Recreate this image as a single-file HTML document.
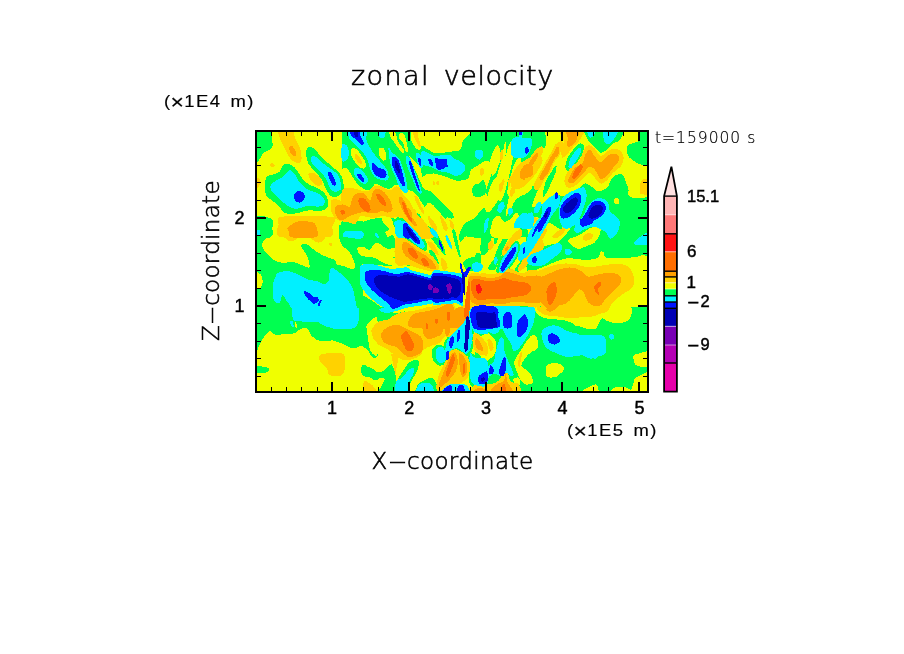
<!DOCTYPE html>
<html><head><meta charset="utf-8"><title>zonal velocity</title>
<style>
html,body{margin:0;padding:0;background:#fff;}
body{width:904px;height:654px;position:relative;overflow:hidden;}
svg{position:absolute;left:0;top:0;}
.t{position:absolute;white-space:nowrap;color:#000;line-height:1;font-family:"DejaVu Sans Light","DejaVu Sans","Liberation Sans",sans-serif;font-weight:200;}
.b{position:absolute;white-space:nowrap;color:#000;line-height:1;font-family:"Liberation Sans",sans-serif;font-weight:400;-webkit-text-stroke:0.45px #000;}
.m{font-size:20px;line-height:0;position:relative;top:2px;margin:0 -1px;}
.d{display:inline-block;transform-origin:0 50%;}
.x{top:399px;width:40px;text-align:center;font-size:18px;}
</style></head><body>
<svg width="904" height="654" viewBox="0 0 904 654">
<defs><clipPath id="cp"><rect x="255" y="130" width="394" height="263"/></clipPath></defs>
<g clip-path="url(#cp)" shape-rendering="crispEdges">
<rect x="255" y="130" width="394" height="263" fill="#f0ff00"/>
<path fill="#00ff50" d="M250.4 125.4C253.7 119.4 267.5 123.6 271.1 125.4C274.6 127.2 271.3 132.8 271.5 136.1C271.8 139.4 272.9 143.0 272.6 145.3C272.3 147.6 270.9 148.7 269.5 149.9C268.1 151.0 265.8 150.6 264.2 152.2C262.5 153.7 260.9 157.3 259.6 159.1C258.3 160.8 258.1 162.1 256.5 162.9C255.0 163.6 250.7 165.7 250.4 163.6C250.1 161.6 247.1 131.5 250.4 125.4ZM284.1 164.4C286.1 163.3 289.4 164.0 291.7 165.2C294.0 166.3 296.0 169.0 297.8 171.3C299.6 173.6 300.4 176.6 302.4 178.9C304.4 181.2 307.2 183.4 310.0 185.0C312.8 186.7 316.7 187.3 319.2 188.9C321.8 190.4 323.8 192.1 325.3 194.2C326.9 196.4 328.1 199.6 328.4 201.9C328.6 204.2 328.1 206.5 326.9 208.0C325.6 209.5 323.8 210.7 320.7 211.0C317.7 211.4 312.1 210.0 308.5 210.3C304.9 210.5 302.7 211.9 299.3 212.6C296.0 213.2 291.4 214.4 288.6 214.1C285.8 213.8 284.3 212.6 282.5 211.0C280.7 209.5 279.7 206.7 277.9 204.9C276.2 203.1 273.7 201.9 271.8 200.3C269.9 198.8 267.6 197.8 266.5 195.7C265.3 193.7 264.9 191.2 264.9 188.1C264.9 185.0 265.1 179.7 266.5 177.4C267.9 175.1 271.2 175.2 273.3 174.3C275.5 173.5 277.7 173.7 279.5 172.0C281.2 170.4 282.0 165.6 284.1 164.4ZM309.3 146.8C310.5 146.7 312.2 147.1 313.9 148.3C315.5 149.6 317.1 152.2 319.2 154.5C321.4 156.8 324.1 159.6 326.9 162.1C329.7 164.7 333.5 167.2 336.0 169.8C338.6 172.3 340.9 174.3 342.2 177.4C343.4 180.5 343.9 185.3 343.7 188.1C343.4 190.9 342.4 192.7 340.6 194.2C338.8 195.7 335.3 197.8 333.0 197.3C330.7 196.8 328.6 194.0 326.9 191.2C325.1 188.4 324.1 183.5 322.3 180.5C320.5 177.4 318.5 175.6 316.2 172.8C313.9 170.0 310.2 166.7 308.5 163.6C306.9 160.6 306.5 156.9 306.2 154.5C305.9 152.0 306.2 150.4 306.7 149.1C307.2 147.8 308.1 146.9 309.3 146.8ZM250.4 220.2C253.7 217.4 266.7 219.4 270.3 220.2C273.9 221.0 271.7 222.0 271.8 224.8C271.9 227.6 274.6 235.0 271.1 237.0C267.5 239.1 253.9 239.8 250.4 237.0C247.0 234.2 247.1 223.0 250.4 220.2ZM341.9 125.4C341.9 125.4 386.6 124.4 390.9 125.4C395.1 126.4 392.9 133.6 395.5 137.6C398.0 141.7 403.4 145.5 406.2 149.9C409.0 154.2 410.2 159.1 412.3 163.6C414.3 168.2 416.4 172.8 418.4 177.4C420.4 182.0 423.0 187.1 424.5 191.2C426.0 195.2 427.6 199.3 427.6 201.9C427.6 204.4 426.0 207.2 424.5 206.5C423.0 205.7 420.4 199.8 418.4 197.3C416.4 194.7 414.3 192.4 412.3 191.2C410.2 189.9 407.9 190.4 406.2 189.6C404.4 188.9 403.4 187.3 401.6 186.6C399.8 185.8 397.5 184.7 395.5 185.0C393.4 185.4 391.6 188.6 389.3 188.9C387.0 189.1 384.0 187.5 381.7 186.6C379.4 185.7 377.4 183.0 375.6 183.5C373.8 184.0 372.8 188.6 371.0 189.6C369.2 190.7 367.2 190.7 364.9 189.6C362.6 188.6 359.5 186.1 357.2 183.5C354.9 181.0 352.9 176.9 351.1 174.3C349.3 171.8 348.1 169.2 346.5 168.2C345.0 167.2 342.1 169.7 341.9 168.2C341.8 166.7 341.9 125.4 341.9 125.4ZM395.5 126.9C397.2 124.4 406.7 124.9 409.2 126.9C411.8 129.0 410.0 136.1 410.7 139.2C411.5 142.2 412.5 143.5 413.8 145.3C415.1 147.1 416.6 149.6 418.4 149.9C420.2 150.1 422.5 146.8 424.5 146.8C426.5 146.8 428.6 148.6 430.6 149.9C432.7 151.2 433.2 154.0 436.7 154.5C440.3 155.0 449.5 149.6 452.0 152.9C454.6 156.2 454.6 171.0 452.0 174.3C449.5 177.7 440.8 172.8 436.7 172.8C432.7 172.8 430.1 175.1 427.6 174.3C425.0 173.6 423.7 170.5 421.5 168.2C419.2 165.9 416.4 163.1 413.8 160.6C411.3 158.0 408.7 156.0 406.2 152.9C403.6 149.9 400.3 146.6 398.5 142.2C396.7 137.9 393.7 129.5 395.5 126.9ZM424.5 191.2C425.3 190.1 428.6 190.1 430.6 191.2C432.7 192.2 433.2 193.7 436.7 197.3C440.3 200.8 449.5 209.0 452.0 212.6C454.6 216.1 454.1 218.7 452.0 218.7C450.0 218.7 443.1 215.1 439.8 212.6C436.5 210.0 434.4 205.9 432.2 203.4C429.9 200.8 427.3 199.3 426.0 197.3C424.8 195.2 423.7 192.2 424.5 191.2ZM341.9 221.7C344.0 220.5 350.6 220.2 354.2 220.2C357.7 220.2 361.1 221.0 363.3 221.7C365.6 222.5 368.4 224.0 367.9 224.8C367.4 225.6 363.1 226.3 360.3 226.3C357.5 226.4 354.2 224.9 351.1 225.1C348.1 225.4 343.5 228.4 341.9 227.9C340.4 227.3 339.9 223.0 341.9 221.7ZM367.9 220.2C369.7 219.3 376.6 217.9 380.2 217.9C383.7 217.9 386.8 219.3 389.3 220.2C391.9 221.1 392.7 222.5 395.5 223.3C398.3 224.0 403.4 222.5 406.2 224.8C409.0 227.1 416.4 235.1 412.3 237.0C408.2 239.0 384.0 238.4 380.2 237.0C376.3 235.6 380.4 227.1 378.6 224.8C376.9 222.5 371.2 224.0 369.5 223.3C367.7 222.5 366.2 221.1 367.9 220.2ZM421.9 145.3C424.2 141.0 429.1 151.9 434.2 152.9C439.3 154.0 448.2 151.9 452.5 151.4C456.9 150.9 458.4 151.7 460.2 149.9C462.0 148.1 461.2 144.5 463.2 140.7C465.3 136.9 467.0 128.0 472.4 126.9C477.8 125.9 526.2 125.1 532.0 126.9C537.9 128.7 534.6 139.7 532.0 145.3C529.5 150.9 520.3 158.5 516.7 160.6C513.2 162.6 512.7 157.0 510.6 157.5C508.6 158.0 506.5 163.1 504.5 163.6C502.5 164.1 500.4 160.6 498.4 160.6C496.4 160.6 494.3 163.6 492.3 163.6C490.2 163.6 488.5 160.3 486.2 160.6C483.9 160.8 481.1 163.6 478.5 165.2C476.0 166.7 472.7 167.5 470.9 169.8C469.1 172.0 470.4 177.1 467.8 178.9C465.3 180.7 458.9 180.7 455.6 180.5C452.3 180.2 451.0 178.4 447.9 177.4C444.9 176.4 440.3 175.1 437.2 174.3C434.2 173.6 432.1 172.6 429.6 172.8C427.0 173.1 422.7 178.5 421.9 175.9C421.2 173.2 419.7 149.5 421.9 145.3ZM421.9 188.1C423.5 186.8 428.8 192.9 431.1 194.2C433.4 195.5 434.2 193.7 435.7 195.7C437.2 197.8 438.5 203.1 440.3 206.5C442.1 209.8 445.6 213.6 446.4 215.6C447.2 217.7 446.2 219.4 444.9 218.7C443.6 217.9 441.1 213.6 438.8 211.0C436.5 208.5 433.9 204.9 431.1 203.4C428.3 201.9 423.5 204.4 421.9 201.9C420.4 199.3 420.4 189.4 421.9 188.1ZM473.2 185.8C474.2 184.3 476.7 184.4 478.5 183.5C480.3 182.6 482.6 179.2 483.9 180.5C485.1 181.7 486.3 188.6 486.2 191.2C486.0 193.7 484.9 194.7 483.1 195.7C481.3 196.8 477.2 197.8 475.5 197.3C473.7 196.8 472.8 194.6 472.4 192.7C472.0 190.8 472.1 187.3 473.2 185.8ZM492.3 163.6C494.6 161.6 500.4 164.1 504.5 163.6C508.6 163.1 512.2 163.6 516.7 160.6C521.3 157.5 530.6 138.2 532.0 145.3C533.4 152.4 532.0 237.0 532.0 237.0C532.0 237.0 473.3 238.5 467.8 237.0C462.3 235.5 472.9 225.8 475.5 221.7C478.0 217.7 480.8 215.9 483.1 212.6C485.4 209.3 488.7 205.4 489.2 201.9C489.7 198.3 485.9 195.5 486.2 191.2C486.4 186.8 489.7 180.5 490.7 175.9C491.8 171.3 490.0 165.7 492.3 163.6ZM511.9 126.9C518.1 119.5 535.4 123.9 541.0 126.9C546.6 130.0 546.1 141.2 545.6 145.3C545.1 149.4 540.5 149.1 537.9 151.4C535.4 153.7 533.1 157.0 530.3 159.1C527.5 161.1 524.2 163.1 521.1 163.6C518.1 164.1 512.7 165.1 511.9 162.1C511.2 159.1 505.8 134.4 511.9 126.9ZM511.9 191.2C513.5 187.3 519.1 189.6 521.1 189.6C523.2 189.6 523.9 189.4 524.2 191.2C524.4 192.9 523.7 197.3 522.6 200.3C521.6 203.4 519.8 207.5 518.1 209.5C516.3 211.5 513.0 215.6 511.9 212.6C510.9 209.5 510.4 195.0 511.9 191.2ZM531.8 189.6C532.8 186.6 535.0 182.8 536.4 180.5C537.8 178.2 539.7 175.1 540.2 175.9C540.7 176.6 540.4 181.5 539.5 185.0C538.6 188.6 536.2 194.0 534.9 197.3C533.6 200.6 532.6 204.7 531.8 204.9C531.1 205.2 530.3 201.4 530.3 198.8C530.3 196.3 530.8 192.7 531.8 189.6ZM545.6 182.0C547.1 177.7 549.9 174.1 551.7 171.3C553.5 168.5 555.6 164.9 556.3 165.2C556.9 165.4 556.4 169.8 555.5 172.8C554.6 175.9 552.6 179.9 550.9 183.5C549.3 187.1 547.0 191.9 545.6 194.2C544.2 196.5 542.5 199.3 542.5 197.3C542.5 195.2 544.1 186.3 545.6 182.0ZM565.5 168.2C564.9 166.2 565.7 162.1 567.0 159.1C568.3 156.0 571.1 152.4 573.1 149.9C575.1 147.3 577.4 144.5 579.2 143.8C581.0 143.0 583.3 143.5 583.8 145.3C584.3 147.1 583.6 151.4 582.3 154.5C581.0 157.5 578.2 160.8 576.2 163.6C574.1 166.4 571.8 170.5 570.0 171.3C568.3 172.0 566.0 170.3 565.5 168.2ZM627.1 146.1C627.8 144.3 630.2 144.2 632.1 143.3C634.0 142.5 637.2 142.3 638.5 141.1C639.9 139.8 639.9 137.9 640.2 136.0C640.5 134.1 638.8 130.7 640.4 129.6C641.9 128.5 648.8 126.6 649.5 129.6C650.3 132.5 650.3 162.4 649.5 165.4C648.8 168.3 643.3 165.4 640.4 164.4C637.5 163.5 634.3 161.5 632.1 159.9C630.0 158.2 628.4 156.7 627.5 154.4C626.7 152.1 626.3 147.9 627.1 146.1ZM579.2 188.1C581.8 186.3 583.3 183.8 585.3 183.5C587.4 183.3 589.4 185.3 591.5 186.6C593.5 187.8 595.0 190.9 597.6 191.2C600.1 191.4 604.2 190.4 606.7 188.1C609.3 185.8 610.3 179.7 612.9 177.4C615.4 175.1 619.5 172.6 622.0 174.3C624.6 176.1 626.6 184.3 628.1 188.1C629.7 191.9 625.9 195.0 631.2 197.3C636.6 199.6 654.5 193.9 660.3 201.9C666.0 209.8 660.3 237.0 660.3 237.0C660.3 237.0 517.1 237.6 511.9 237.0C506.8 236.5 513.0 226.3 515.0 221.7C517.0 217.2 520.9 212.1 524.2 209.5C527.5 207.0 530.5 208.0 534.9 206.5C539.2 204.9 546.3 202.1 550.2 200.3C554.0 198.6 555.5 196.5 557.8 195.7C560.1 195.0 561.9 196.0 563.9 195.7C566.0 195.5 567.5 195.5 570.0 194.2C572.6 192.9 576.7 189.9 579.2 188.1ZM585.3 127.7C589.5 126.1 618.4 126.5 622.0 127.7C625.7 128.9 622.0 136.5 620.5 139.2C619.0 141.9 615.2 142.0 612.9 143.8C610.6 145.5 608.8 148.3 606.7 149.9C604.7 151.4 602.4 153.2 600.6 152.9C598.8 152.7 598.1 150.4 596.0 148.3C594.0 146.3 590.2 144.1 588.4 140.7C586.6 137.3 581.2 129.3 585.3 127.7ZM251.9 219.2C253.1 212.7 268.8 216.8 271.8 219.2C274.9 221.7 271.6 230.3 270.3 233.8C269.0 237.2 265.6 237.8 264.2 239.9C262.8 241.9 261.6 244.0 261.9 246.0C262.1 248.0 263.8 249.8 265.7 252.1C267.6 254.4 270.5 258.0 273.3 259.8C276.2 261.5 279.2 262.4 282.5 262.8C285.8 263.2 289.7 261.5 293.2 262.0C296.8 262.6 301.3 265.0 303.9 265.9C306.6 266.8 308.5 268.4 309.3 267.4C310.0 266.4 309.4 262.6 308.5 259.8C307.6 257.0 305.2 252.9 303.9 250.6C302.7 248.3 300.6 247.1 300.9 246.0C301.1 244.8 303.4 243.2 305.5 243.7C307.5 244.2 310.3 247.1 313.1 249.1C315.9 251.0 318.7 253.4 322.3 255.2C325.8 257.0 330.9 258.2 334.5 259.8C338.1 261.3 339.1 263.3 343.7 264.3C348.3 265.4 360.3 260.0 362.0 265.9C363.8 271.8 362.0 327.0 362.0 327.0C362.0 327.0 251.9 327.0 251.9 327.0C251.9 327.0 250.7 225.8 251.9 219.2ZM340.6 224.6C344.4 223.6 358.7 216.7 362.0 223.1C365.3 229.4 364.0 260.8 362.0 265.9C360.1 270.9 352.9 258.2 349.8 255.2C346.7 252.1 345.5 250.3 343.7 247.5C341.9 244.7 339.9 241.4 339.1 238.3C338.3 235.3 338.8 231.5 339.1 229.2C339.4 226.9 336.8 225.6 340.6 224.6ZM341.9 224.6C341.9 224.6 377.1 219.7 381.7 219.2C386.3 218.8 392.4 217.1 395.5 219.2C398.5 221.4 399.0 228.3 400.0 232.2C401.1 236.2 400.6 238.6 401.6 242.9C402.6 247.3 404.9 254.4 406.2 258.2C407.4 262.0 411.8 264.6 409.2 265.9C406.7 267.1 397.0 266.1 390.9 265.9C384.8 265.7 360.3 264.3 360.3 264.3C360.3 264.3 362.0 321.2 360.3 327.0C358.6 332.9 343.0 333.1 341.9 327.0C340.9 321.0 341.9 224.6 341.9 224.6ZM357.2 296.5C359.9 291.9 367.9 298.7 372.5 301.0C377.1 303.3 380.9 308.2 384.8 310.2C388.6 312.3 391.9 313.1 395.5 313.3C399.0 313.4 406.2 310.6 406.2 311.0C406.2 311.4 398.0 312.9 395.5 315.6C392.9 318.2 394.8 325.9 390.9 327.0C386.9 328.2 357.2 327.0 357.2 327.0C357.2 327.0 354.5 301.0 357.2 296.5ZM473.2 305.6C474.8 305.5 540.3 306.2 542.0 306.4C543.8 306.5 543.8 311.6 542.0 311.7C540.3 311.8 476.4 310.4 474.8 310.2C473.1 310.1 471.6 305.7 473.2 305.6ZM514.5 218.5C519.1 216.9 537.4 218.2 542.0 218.5C546.6 218.7 545.6 218.2 542.0 220.0C538.5 221.8 525.2 227.9 520.6 229.2C516.0 230.4 515.5 229.4 514.5 227.6C513.5 225.9 509.9 220.0 514.5 218.5ZM514.5 270.5C515.0 268.5 518.6 263.8 520.6 261.3C522.7 258.7 525.5 255.7 526.7 255.2C528.0 254.7 529.0 256.2 528.3 258.2C527.5 260.3 523.9 265.0 522.2 267.4C520.4 269.8 518.8 272.2 517.6 272.8C516.3 273.3 514.0 272.4 514.5 270.5ZM526.9 216.9C526.9 216.9 652.3 216.9 652.3 216.9C652.3 216.9 653.0 252.2 652.3 255.2C651.6 258.1 645.7 254.9 643.1 255.2C640.6 255.4 640.6 256.2 637.0 256.7C633.5 257.2 626.8 258.1 621.7 258.2C616.6 258.4 609.5 258.5 606.5 257.5C603.4 256.4 604.4 253.0 603.4 252.1C602.4 251.2 601.4 251.1 600.3 252.1C599.3 253.1 600.1 257.0 597.3 258.2C594.5 259.5 588.4 259.8 583.5 259.8C578.7 259.8 573.3 257.7 568.2 258.2C563.1 258.7 557.3 261.3 552.9 262.8C548.6 264.3 546.6 266.1 542.2 267.4C537.9 268.7 528.4 275.4 526.9 270.5C525.4 265.5 526.9 216.9 526.9 216.9ZM630.9 311.7C631.9 308.8 633.5 310.6 637.0 309.4C640.6 308.3 649.8 301.9 652.3 304.9C654.9 307.8 655.9 323.3 652.3 327.0C648.8 330.7 634.5 329.6 630.9 327.0C627.3 324.5 629.9 314.7 630.9 311.7ZM526.9 305.6C528.7 302.8 534.6 308.7 537.6 310.2C540.7 311.7 542.7 312.0 545.3 314.8C547.8 317.6 556.0 325.0 552.9 327.0C549.9 329.1 531.3 330.6 526.9 327.0C522.6 323.5 525.2 308.4 526.9 305.6ZM603.4 327.0C600.8 325.0 604.4 317.3 606.5 314.8C608.5 312.3 613.1 309.7 615.6 311.7C618.2 313.8 623.8 324.5 621.7 327.0C619.7 329.6 605.9 329.1 603.4 327.0ZM252.3 307.3C252.3 307.3 373.6 307.0 377.1 307.3C380.7 307.6 378.5 315.5 377.1 318.0C375.8 320.4 370.8 320.0 369.2 321.9C367.5 323.9 367.2 326.6 367.2 329.9C367.2 333.2 369.7 339.4 369.2 341.9C368.6 344.3 366.5 343.4 363.9 344.5C361.2 345.6 356.3 348.4 353.2 348.5C350.1 348.6 348.6 346.5 345.3 345.2C342.0 343.9 337.3 341.2 333.3 340.5C329.3 339.9 324.9 341.9 321.4 341.2C317.8 340.5 314.5 338.8 312.1 336.5C309.6 334.3 309.0 329.0 306.8 327.9C304.6 326.8 300.8 329.0 298.8 329.9C296.8 330.8 296.6 332.6 294.8 333.2C293.1 333.9 291.5 333.7 288.2 333.9C284.9 334.1 278.0 335.0 274.9 334.6C271.8 334.1 271.4 330.9 269.6 331.2C267.8 331.6 266.1 334.1 264.3 336.5C262.5 339.0 260.2 343.4 259.0 345.8C257.8 348.3 258.1 350.3 257.0 351.2C255.9 352.0 252.5 352.7 252.3 351.2C252.2 349.6 252.3 307.3 252.3 307.3ZM253.7 366.4C255.7 365.4 263.1 366.6 265.6 367.1C268.2 367.5 268.7 368.2 268.9 369.1C269.2 370.0 269.5 371.7 266.9 372.4C264.4 373.1 255.9 374.1 253.7 373.1C251.5 372.1 251.7 367.4 253.7 366.4ZM361.9 365.8C362.3 365.2 363.7 364.2 365.2 365.1C366.6 366.0 368.5 369.4 370.5 371.1C372.5 372.7 376.0 373.5 377.1 375.0C378.2 376.6 378.7 380.6 377.1 380.4C375.6 380.1 370.3 375.7 367.8 373.7C365.4 371.7 363.5 369.7 362.5 368.4C361.5 367.1 361.4 366.3 361.9 365.8ZM362.3 307.3C362.3 307.3 391.9 306.8 394.2 307.3C396.5 307.9 393.8 312.7 391.5 314.0C389.3 315.3 384.0 314.2 380.9 315.3C377.8 316.4 375.2 319.3 373.0 320.6C370.8 321.9 368.3 320.2 367.7 323.3C367.0 326.4 367.9 334.6 369.0 339.2C370.1 343.9 372.7 348.5 374.3 351.2C375.8 353.8 378.5 354.0 378.3 355.1C378.1 356.2 374.7 358.7 373.0 357.8C371.2 356.9 369.4 351.8 367.7 349.8C365.9 347.8 362.6 348.0 362.3 345.8C362.1 343.6 362.3 307.3 362.3 307.3ZM362.3 365.8C363.9 364.6 369.0 367.3 371.6 368.4C374.3 369.5 376.1 372.2 378.3 372.4C380.5 372.6 382.7 371.1 384.9 369.7C387.1 368.4 389.8 363.5 391.5 364.4C393.3 365.3 394.6 372.2 395.5 375.0C396.4 377.9 396.2 381.5 396.9 381.7C397.5 381.9 398.2 378.6 399.5 376.4C400.8 374.2 403.1 370.8 404.8 368.4C406.6 366.0 407.9 363.1 410.1 361.8C412.3 360.4 416.8 359.3 418.1 360.4C419.4 361.6 418.8 365.8 418.1 368.4C417.4 371.1 415.4 373.7 414.1 376.4C412.8 379.0 411.0 380.8 410.1 384.3C409.2 387.9 412.9 395.9 408.8 397.6C404.7 399.3 382.4 399.7 378.3 397.6C374.1 395.5 381.2 387.4 382.3 384.3C383.4 381.2 385.1 380.1 384.9 379.0C384.7 377.9 382.5 377.5 380.9 377.7C379.4 377.9 377.4 380.4 375.6 380.4C373.8 380.4 372.5 378.6 370.3 377.7C368.1 376.8 363.7 377.0 362.3 375.0C361.0 373.1 360.8 366.9 362.3 365.8ZM432.7 348.5C433.9 346.7 437.1 344.5 439.3 344.5C441.6 344.5 444.4 346.5 446.0 348.5C447.5 350.5 448.6 354.0 448.6 356.5C448.6 358.9 447.5 361.6 446.0 363.1C444.4 364.6 441.3 366.0 439.3 365.8C437.3 365.5 435.2 363.5 434.0 361.8C432.8 360.0 432.3 357.3 432.0 355.1C431.8 352.9 431.5 350.3 432.7 348.5ZM415.4 397.6C412.3 395.4 416.6 387.2 418.1 384.3C419.6 381.5 422.5 381.5 424.7 380.4C426.9 379.3 429.4 377.0 431.4 377.7C433.4 378.4 435.8 381.0 436.7 384.3C437.6 387.7 440.2 395.4 436.7 397.6C433.1 399.8 418.5 399.8 415.4 397.6ZM444.6 341.9C446.1 338.3 449.5 334.8 452.6 331.2C455.7 327.7 460.6 323.5 463.2 320.6C465.9 317.7 466.8 314.0 468.5 314.0C470.3 314.0 472.7 316.9 473.9 320.6C475.0 324.4 475.6 331.2 475.2 336.5C474.7 341.9 472.7 349.2 471.2 352.5C469.7 355.8 468.1 356.9 465.9 356.5C463.7 356.0 460.4 350.7 457.9 349.8C455.5 348.9 453.1 349.8 451.3 351.2C449.5 352.5 448.5 357.6 447.3 357.8C446.1 358.0 444.4 355.1 444.0 352.5C443.5 349.8 443.2 345.4 444.6 341.9ZM468.5 352.5C469.7 350.0 472.1 354.2 475.2 355.1C478.3 356.0 485.8 353.9 487.1 357.8C488.5 361.6 488.0 386.7 487.1 389.6C486.2 392.6 480.7 389.2 477.8 388.3C475.0 387.4 471.4 387.4 469.9 384.3C468.3 381.2 468.8 375.0 468.5 369.7C468.3 364.4 467.4 354.9 468.5 352.5ZM475.0 307.3L597.1 307.3L597.1 397.6L475.0 397.6ZM575.0 307.4L653.0 307.4L653.0 395.8L575.0 395.8ZM395.9 218.3C397.5 216.2 402.3 218.0 405.5 219.6C408.7 221.2 412.2 224.9 415.1 227.9C418.1 230.9 421.3 234.3 423.4 237.5C425.5 240.7 427.5 244.9 427.5 247.2C427.5 249.4 425.7 251.5 423.4 251.3C421.1 251.1 416.7 247.8 413.8 245.8C410.8 243.7 408.5 241.2 405.5 238.9C402.5 236.6 397.5 235.5 395.9 232.0C394.3 228.6 394.3 220.3 395.9 218.3ZM413.8 212.8C414.0 211.4 417.4 212.3 419.3 214.1C421.1 216.0 422.7 221.5 424.8 223.8C426.8 226.1 429.4 225.8 431.6 227.9C433.9 230.0 436.5 232.9 438.5 236.1C440.6 239.4 442.9 243.9 444.0 247.2C445.2 250.4 445.9 254.7 445.4 255.4C445.0 256.1 442.9 253.1 441.3 251.3C439.7 249.4 437.6 246.7 435.8 244.4C433.9 242.1 432.3 239.6 430.3 237.5C428.2 235.5 425.5 234.5 423.4 232.0C421.3 229.5 419.5 225.6 417.9 222.4C416.3 219.2 413.5 214.1 413.8 212.8ZM428.9 249.9C429.4 249.2 431.6 249.9 433.0 251.3C434.4 252.7 436.2 256.1 437.2 258.2C438.1 260.2 439.0 263.2 438.5 263.7C438.1 264.1 435.8 262.3 434.4 260.9C433.0 259.5 431.2 257.2 430.3 255.4C429.4 253.6 428.4 250.6 428.9 249.9ZM452.3 230.6C452.3 228.3 454.1 228.8 455.0 230.6C456.0 232.5 456.9 237.5 457.8 241.6C458.7 245.8 460.3 252.9 460.5 255.4C460.8 257.9 460.1 258.6 459.2 256.8C458.3 255.0 456.2 248.8 455.0 244.4C453.9 240.0 452.3 232.9 452.3 230.6ZM459.2 234.8C459.9 231.8 462.2 226.5 464.7 223.8C467.2 221.0 471.3 220.8 474.3 218.3C477.3 215.7 480.3 210.2 482.6 208.6C484.9 207.0 487.2 207.0 488.1 208.6C489.0 210.2 488.8 214.6 488.1 218.3C487.4 221.9 485.1 227.4 483.9 230.6C482.8 233.9 482.8 237.1 481.2 237.5C479.6 238.0 476.8 233.6 474.3 233.4C471.8 233.2 468.3 234.8 466.1 236.1C463.8 237.5 461.7 241.9 460.5 241.6C459.4 241.4 458.5 237.8 459.2 234.8ZM463.3 262.3C464.0 260.7 467.0 259.1 468.8 258.2C470.6 257.2 472.9 257.7 474.3 256.8C475.7 255.9 475.9 252.9 477.1 252.7C478.2 252.4 480.7 253.3 481.2 255.4C481.6 257.5 481.0 262.5 479.8 265.0C478.7 267.6 476.4 269.6 474.3 270.5C472.2 271.5 469.0 271.0 467.4 270.5C465.8 270.1 465.4 269.2 464.7 267.8C464.0 266.4 462.6 263.9 463.3 262.3ZM481.2 237.5C482.0 232.9 483.9 227.4 485.3 223.8C486.7 220.1 487.6 218.0 489.4 215.5C491.3 213.0 493.8 209.8 496.3 208.6C498.8 207.5 503.9 207.0 504.6 208.6C505.3 210.2 502.1 215.0 500.5 218.3C498.8 221.5 496.6 224.2 494.9 227.9C493.3 231.6 492.0 236.4 490.8 240.3C489.7 244.2 489.4 248.8 488.1 251.3C486.7 253.8 483.8 255.4 482.6 255.4C481.3 255.4 480.7 254.3 480.5 251.3C480.3 248.3 480.4 242.1 481.2 237.5ZM496.3 251.3C497.7 247.6 499.8 243.9 501.8 240.3C503.9 236.6 506.2 232.5 508.7 229.3C511.2 226.1 514.9 222.2 517.0 221.0C519.0 219.9 520.4 221.2 521.1 222.4C521.8 223.5 522.5 226.1 521.1 227.9C519.7 229.7 515.4 230.9 512.8 233.4C510.3 235.9 507.8 239.6 506.0 243.0C504.1 246.5 503.0 250.8 501.8 254.0C500.7 257.2 500.0 260.5 499.1 262.3C498.2 264.1 497.2 265.0 496.3 265.0C495.4 265.0 493.6 264.6 493.6 262.3C493.6 260.0 494.9 255.0 496.3 251.3ZM496.3 270.5C496.6 267.7 498.4 262.1 500.5 258.2C502.5 254.3 506.1 250.0 508.7 247.2C511.3 244.3 514.3 241.0 516.3 241.0C518.2 241.0 520.3 244.3 520.4 247.2C520.5 250.0 518.7 254.7 517.0 258.2C515.2 261.6 512.2 265.0 510.1 267.8C508.0 270.5 506.4 273.4 504.6 274.7C502.7 275.9 500.5 276.1 499.1 275.4C497.7 274.7 496.1 273.4 496.3 270.5ZM488.1 267.8C488.5 265.7 493.1 260.0 494.9 258.2C496.8 256.3 498.8 255.2 499.1 256.8C499.3 258.4 497.5 265.5 496.3 267.8C495.2 270.1 493.6 270.5 492.2 270.5C490.8 270.5 487.6 269.9 488.1 267.8ZM504.6 208.6C506.0 207.0 509.4 207.5 510.1 208.6C510.8 209.8 509.6 213.0 508.7 215.5C507.8 218.0 506.0 221.0 504.6 223.8C503.2 226.5 501.8 228.8 500.5 232.0C499.1 235.2 497.5 241.4 496.3 243.0C495.2 244.6 493.3 243.9 493.6 241.6C493.8 239.4 496.3 233.2 497.7 229.3C499.1 225.4 500.7 221.7 501.8 218.3C503.0 214.8 503.2 210.2 504.6 208.6Z"/>
<path fill="#f0ff00" d="M351.9 148.3C352.8 147.5 354.8 147.8 356.5 149.1C358.1 150.4 360.3 153.7 361.8 156.0C363.3 158.3 365.1 160.8 365.6 162.9C366.2 164.9 365.8 167.5 364.9 168.2C364.0 169.0 361.9 168.5 360.3 167.5C358.6 166.4 356.5 164.3 354.9 162.1C353.4 159.9 351.6 156.8 351.1 154.5C350.6 152.2 351.0 149.2 351.9 148.3ZM379.4 148.3C380.2 147.7 382.1 147.3 383.2 148.0C384.3 148.8 385.5 151.1 386.0 152.9C386.5 154.8 386.7 157.8 386.3 159.1C385.8 160.3 384.2 160.8 383.2 160.6C382.2 160.3 380.9 158.9 380.2 157.5C379.4 156.1 378.8 153.7 378.6 152.2C378.5 150.6 378.6 149.0 379.4 148.3ZM388.6 127.7C389.2 126.3 392.4 125.5 393.9 127.7C395.5 129.9 396.1 137.0 397.8 140.7C399.4 144.4 403.0 147.8 403.9 149.9C404.8 151.9 404.0 153.2 403.1 152.9C402.2 152.7 400.2 150.4 398.5 148.3C396.9 146.3 394.6 142.7 393.2 140.7C391.8 138.7 390.9 138.3 390.1 136.1C389.3 134.0 387.9 129.1 388.6 127.7ZM415.8 126.9C419.8 126.1 467.1 125.4 472.4 126.9C477.7 128.5 465.3 136.9 463.2 140.7C461.2 144.5 462.0 148.1 460.2 149.9C458.4 151.7 455.8 151.2 452.5 151.4C449.2 151.7 443.3 151.2 440.3 151.4C437.2 151.7 437.2 154.0 434.2 152.9C431.1 151.9 425.0 147.6 421.9 145.3C418.9 143.0 416.8 142.2 415.8 139.2C414.8 136.1 411.8 127.8 415.8 126.9ZM496.9 175.9C498.0 171.3 500.2 165.9 501.5 160.6C502.7 155.2 503.7 146.3 504.5 143.8C505.3 141.2 506.0 142.0 506.0 145.3C506.0 148.6 505.5 157.8 504.5 163.6C503.5 169.5 501.2 175.9 499.9 180.5C498.6 185.0 497.8 189.9 496.9 191.2C496.0 192.4 494.6 190.7 494.6 188.1C494.6 185.6 495.7 180.5 496.9 175.9ZM507.6 168.2C508.8 163.1 509.9 157.3 510.6 152.9C511.4 148.6 511.6 143.8 512.2 142.2C512.7 140.7 513.6 141.2 513.7 143.8C513.8 146.3 513.6 152.7 512.9 157.5C512.3 162.4 511.0 167.7 509.9 172.8C508.7 177.9 507.4 183.5 506.0 188.1C504.6 192.7 502.7 198.6 501.5 200.3C500.2 202.1 498.1 201.6 498.4 198.8C498.6 196.0 501.5 188.6 503.0 183.5C504.5 178.4 506.3 173.3 507.6 168.2ZM510.6 191.2C512.2 186.6 513.2 181.0 516.7 175.9C520.3 170.8 529.5 158.5 532.0 160.6C534.6 162.6 534.6 181.7 532.0 188.1C529.5 194.5 520.3 195.2 516.7 198.8C513.2 202.4 512.4 206.7 510.6 209.5C508.8 212.3 506.5 216.6 506.0 215.6C505.5 214.6 506.8 207.5 507.6 203.4C508.3 199.3 509.1 195.7 510.6 191.2ZM492.3 221.7C493.3 218.2 496.4 215.6 498.4 215.6C500.4 215.6 502.5 221.2 504.5 221.7C506.5 222.3 508.6 220.2 510.6 218.7C512.7 217.2 515.2 212.1 516.7 212.6C518.3 213.1 519.8 217.7 519.8 221.7C519.8 225.8 521.3 234.5 516.7 237.0C512.2 239.6 496.4 239.6 492.3 237.0C488.2 234.5 491.3 225.3 492.3 221.7ZM614.4 198.8C614.9 197.9 617.4 198.0 618.2 198.8C619.0 199.6 619.5 202.5 619.0 203.4C618.5 204.3 615.9 204.9 615.2 204.2C614.4 203.4 613.9 199.7 614.4 198.8ZM560.9 230.9C560.6 229.6 563.9 224.8 565.5 223.3C567.0 221.7 569.5 221.0 570.0 221.7C570.6 222.5 569.0 226.3 568.5 227.9C568.0 229.4 568.3 230.4 567.0 230.9C565.7 231.4 561.1 232.2 560.9 230.9ZM542.5 230.9C541.5 229.9 544.3 226.1 545.6 224.8C546.9 223.5 549.1 222.3 550.2 223.3C551.2 224.3 553.0 229.6 551.7 230.9C550.4 232.2 543.5 231.9 542.5 230.9ZM589.9 230.9C588.6 230.3 591.2 227.6 593.0 227.1C594.8 226.6 599.4 227.2 600.6 227.9C601.9 228.5 602.4 230.4 600.6 230.9C598.8 231.4 591.2 231.6 589.9 230.9ZM253.5 272.0C254.7 269.7 259.6 273.5 261.1 275.0C262.6 276.6 262.6 279.1 262.6 281.2C262.6 283.2 262.6 286.0 261.1 287.3C259.6 288.6 254.7 291.4 253.5 288.8C252.2 286.3 252.2 274.3 253.5 272.0ZM335.8 242.9C337.1 240.3 341.2 245.2 343.5 246.8C345.8 248.3 347.9 249.9 349.6 252.1C351.2 254.3 352.5 257.2 353.4 259.8C354.3 262.3 355.3 265.9 354.9 267.4C354.6 268.9 353.0 269.2 351.1 268.9C349.2 268.7 346.0 266.9 343.5 265.9C340.9 264.9 337.1 266.6 335.8 262.8C334.6 259.0 334.6 245.6 335.8 242.9ZM358.0 247.5C359.1 246.8 363.0 247.1 364.9 247.5C366.8 247.9 367.7 250.6 369.5 249.8C371.2 249.1 373.5 243.7 375.6 242.9C377.6 242.2 379.7 244.2 381.7 245.2C383.7 246.2 385.5 248.7 387.8 249.1C390.1 249.4 393.7 247.3 395.5 247.5C397.2 247.8 398.3 249.3 398.5 250.6C398.8 251.9 398.3 253.6 397.0 255.2C395.7 256.7 390.9 258.0 390.9 259.8C390.9 261.5 396.5 264.9 397.0 265.9C397.5 266.9 396.2 266.4 393.9 265.9C391.6 265.4 386.3 264.1 383.2 262.8C380.2 261.5 378.1 259.2 375.6 258.2C373.0 257.2 370.2 257.1 367.9 256.7C365.6 256.3 363.5 256.7 361.8 255.9C360.2 255.2 358.6 253.5 358.0 252.1C357.4 250.7 356.9 248.3 358.0 247.5ZM381.7 218.5C382.7 217.5 388.8 217.2 390.9 218.5C392.9 219.7 392.9 223.8 393.9 226.1C394.9 228.4 396.1 229.9 397.0 232.2C397.9 234.5 399.3 238.3 399.3 239.9C399.3 241.4 398.1 242.2 397.0 241.4C395.8 240.6 393.9 236.1 392.4 235.3C390.9 234.5 389.0 237.3 387.8 236.8C386.7 236.3 385.3 233.5 385.5 232.2C385.8 231.0 389.5 230.4 389.3 229.2C389.2 227.9 386.0 226.4 384.8 224.6C383.5 222.8 380.7 219.5 381.7 218.5ZM390.9 258.2C392.9 257.2 403.1 258.0 406.2 259.0C409.2 260.0 409.7 263.2 409.2 264.3C408.7 265.5 405.7 265.7 403.1 265.9C400.6 266.0 396.0 266.4 393.9 265.1C391.9 263.8 388.8 259.2 390.9 258.2ZM528.5 249.1C530.3 246.8 536.4 244.0 539.2 241.4C542.0 238.9 543.5 236.8 545.3 233.8C547.1 230.7 547.3 223.8 549.9 223.1C552.4 222.3 557.0 229.4 560.6 229.2C564.1 228.9 569.8 221.5 571.3 221.5C572.8 221.5 571.0 226.6 569.8 229.2C568.5 231.7 565.7 234.5 563.6 236.8C561.6 239.1 559.6 241.7 557.5 242.9C555.5 244.2 553.4 244.0 551.4 244.5C549.4 245.0 547.6 245.0 545.3 246.0C543.0 247.0 540.4 249.1 537.6 250.6C534.8 252.1 530.0 255.4 528.5 255.2C526.9 254.9 526.7 251.3 528.5 249.1ZM528.5 218.5C530.5 215.9 539.4 217.2 540.7 218.5C542.0 219.7 538.2 223.6 536.1 226.1C534.1 228.7 529.7 235.0 528.5 233.8C527.2 232.5 526.4 221.0 528.5 218.5ZM568.2 239.9C569.2 238.1 575.1 237.3 578.9 235.3C582.8 233.3 587.8 228.9 591.2 227.6C594.5 226.4 597.4 226.4 598.8 227.6C600.2 228.9 600.3 232.7 599.6 235.3C598.8 237.8 596.4 241.2 594.2 242.9C592.1 244.7 589.1 245.0 586.6 246.0C584.0 247.0 581.2 249.1 578.9 249.1C576.6 249.1 574.6 247.5 572.8 246.0C571.0 244.5 567.2 241.7 568.2 239.9ZM294.8 321.9C294.9 321.3 295.7 321.6 296.2 322.6C296.6 323.6 297.6 327.3 297.5 327.9C297.4 328.6 295.9 327.6 295.5 326.6C295.0 325.6 294.7 322.6 294.8 321.9ZM367.2 324.6C368.8 322.2 375.9 314.2 377.1 318.0C378.4 321.8 377.6 352.6 377.1 355.1C376.6 357.7 371.9 353.4 370.5 351.2C369.1 348.9 369.1 345.0 368.5 341.9C367.9 338.8 367.4 335.4 367.2 332.6C367.0 329.7 365.5 327.0 367.2 324.6ZM534.7 307.3C537.1 307.1 590.8 305.3 597.1 307.3C603.5 309.4 598.9 323.7 597.1 327.3C595.4 330.8 590.0 329.0 586.5 328.6C583.0 328.1 579.4 325.9 575.9 324.6C572.3 323.3 568.8 321.5 565.3 320.6C561.7 319.7 558.2 319.7 554.6 319.3C551.1 318.8 546.9 318.8 544.0 318.0C541.2 317.1 538.9 315.8 537.4 314.0C535.8 312.2 532.4 307.6 534.7 307.3ZM522.8 347.2C524.8 344.1 526.3 341.3 528.1 339.2C529.9 337.1 531.9 334.6 533.4 334.6C535.0 334.6 536.7 336.9 537.4 339.2C538.1 341.5 538.5 346.3 537.4 348.5C536.3 350.7 532.7 350.9 530.8 352.5C528.8 354.0 527.0 355.6 525.4 357.8C523.9 360.0 521.0 363.5 521.5 365.8C521.9 368.0 526.3 369.1 528.1 371.1C529.9 373.1 531.3 375.7 532.1 377.7C532.9 379.7 533.9 381.9 532.7 383.0C531.6 384.1 527.5 385.0 525.4 384.3C523.3 383.7 521.7 381.5 520.1 379.0C518.6 376.6 517.1 372.4 516.2 369.7C515.2 367.1 514.2 365.1 514.2 363.1C514.2 361.1 514.7 360.4 516.2 357.8C517.6 355.1 520.8 350.3 522.8 347.2ZM546.7 365.8C547.7 364.4 549.6 363.3 552.0 363.1C554.4 362.9 559.3 363.3 561.3 364.4C563.3 365.5 564.2 368.2 563.9 369.7C563.7 371.3 561.3 372.5 560.0 373.7C558.6 374.9 558.1 376.5 556.0 377.0C553.9 377.6 549.0 378.0 547.3 377.0C545.7 376.0 546.1 372.9 546.0 371.1C545.9 369.2 545.7 367.1 546.7 365.8ZM473.7 332.6C474.8 330.4 478.1 336.5 480.3 336.5C482.5 336.5 485.0 332.6 486.9 332.6C488.9 332.6 490.7 334.8 492.3 336.5C493.8 338.3 495.8 340.3 496.2 343.2C496.7 346.1 496.0 351.2 494.9 353.8C493.8 356.5 491.4 357.6 489.6 359.1C487.8 360.7 486.1 364.0 484.3 363.1C482.5 362.2 480.8 356.0 479.0 353.8C477.2 351.6 474.6 353.4 473.7 349.8C472.8 346.3 472.6 334.8 473.7 332.6ZM513.5 379.0C514.2 377.9 517.7 376.8 518.8 377.7C519.9 378.6 520.8 383.2 520.1 384.3C519.5 385.4 515.9 385.2 514.8 384.3C513.7 383.5 512.8 380.1 513.5 379.0ZM582.5 391.0C583.6 389.2 586.7 388.0 589.2 387.0C591.6 386.0 595.8 383.2 597.1 385.0C598.5 386.8 599.6 395.5 597.1 397.6C594.7 399.7 585.0 398.7 582.5 397.6C580.1 396.5 581.4 392.7 582.5 391.0ZM573.7 307.4C579.1 305.8 627.5 306.8 630.9 307.4C634.3 308.0 631.3 315.3 630.2 317.8C629.2 320.3 627.1 321.5 624.4 322.3C621.7 323.2 617.0 323.3 614.0 323.0C611.0 322.7 608.1 321.2 606.2 320.4C604.2 319.6 603.6 318.0 602.3 318.4C601.0 318.9 600.1 321.7 598.4 323.0C596.7 324.3 594.1 325.4 591.9 326.2C589.7 327.1 587.3 328.2 585.4 328.2C583.4 328.2 582.1 326.9 580.2 326.2C578.2 325.6 574.8 327.4 573.7 324.3C572.6 321.2 568.3 309.0 573.7 307.4ZM633.5 355.5C634.3 354.2 635.4 354.2 638.7 353.5C641.9 352.9 650.6 349.4 653.0 351.6C655.4 353.8 655.6 364.2 653.0 366.5C650.4 368.9 640.5 366.8 637.4 365.9C634.3 365.0 634.8 363.1 634.1 361.3C633.5 359.6 632.7 356.8 633.5 355.5ZM632.2 395.8C628.9 393.6 632.6 385.9 633.5 382.8C634.4 379.7 634.1 378.7 637.4 376.9C640.6 375.2 650.4 369.3 653.0 372.4C655.6 375.5 656.5 391.9 653.0 395.8C649.5 399.7 635.4 398.0 632.2 395.8ZM582.8 393.2C580.6 392.4 585.2 389.6 586.7 388.6C588.2 387.7 590.2 387.2 591.9 387.3C593.6 387.5 595.8 388.3 597.1 389.3C598.4 390.3 602.1 392.5 599.7 393.2C597.3 393.8 585.0 394.0 582.8 393.2ZM610.1 393.2C607.1 392.3 612.3 389.1 614.0 388.0C615.7 386.9 618.3 386.7 620.5 386.7C622.7 386.7 625.0 386.9 627.0 388.0C628.9 389.1 635.0 392.3 632.2 393.2C629.4 394.1 613.1 394.1 610.1 393.2ZM489.4 164.4C489.9 159.8 493.3 150.9 494.9 147.9C496.6 144.9 498.2 144.9 499.1 146.5C500.0 148.1 500.9 153.4 500.5 157.5C500.0 161.6 497.7 168.3 496.3 171.3C494.9 174.3 493.3 176.6 492.2 175.4C491.1 174.3 489.0 169.0 489.4 164.4ZM501.8 171.3C502.5 166.2 504.6 159.6 506.0 154.8C507.3 150.0 508.9 144.2 510.1 142.4C511.2 140.5 512.8 140.8 512.8 143.8C512.8 146.7 511.2 155.0 510.1 160.3C508.9 165.5 507.3 171.3 506.0 175.4C504.6 179.5 502.5 185.7 501.8 185.0C501.1 184.4 501.1 176.3 501.8 171.3ZM510.1 178.2C511.2 173.6 512.8 167.8 514.2 164.4C515.6 161.0 517.2 158.7 518.3 157.5C519.5 156.4 520.6 155.2 521.1 157.5C521.6 159.8 522.0 166.7 521.1 171.3C520.2 175.9 517.4 180.9 515.6 185.0C513.8 189.2 511.5 194.9 510.1 196.1C508.7 197.2 507.3 194.9 507.3 191.9C507.3 188.9 508.9 182.7 510.1 178.2ZM490.8 185.0C493.1 179.8 496.8 175.0 499.1 175.4C501.4 175.9 504.6 183.9 504.6 187.8C504.6 191.7 500.9 195.6 499.1 198.8C497.2 202.0 495.4 204.8 493.6 207.1C491.7 209.4 489.4 212.6 488.1 212.6C486.7 212.6 484.9 211.6 485.3 207.1C485.8 202.5 488.5 190.3 490.8 185.0ZM399.3 134.1C400.1 133.4 402.9 132.5 404.1 134.1C405.4 135.7 406.2 140.8 406.9 143.8C407.6 146.7 408.5 150.9 408.3 152.0C408.0 153.2 406.4 152.2 405.5 150.6C404.6 149.0 403.8 144.4 402.8 142.4C401.7 140.3 399.9 139.6 399.3 138.3C398.7 136.9 398.5 134.8 399.3 134.1Z"/>
<path fill="#ffd200" d="M277.9 126.9C279.7 124.9 288.0 124.9 290.9 126.9C293.9 129.0 294.0 135.6 295.5 139.2C297.0 142.7 299.1 145.0 300.1 148.3C301.1 151.7 301.8 156.6 301.6 159.1C301.5 161.5 300.7 162.5 299.3 162.9C297.9 163.3 295.1 162.6 293.2 161.3C291.3 160.1 289.4 157.7 287.9 155.2C286.3 152.8 285.3 149.5 284.1 146.8C282.8 144.1 281.2 142.5 280.2 139.2C279.2 135.9 276.2 129.0 277.9 126.9ZM270.0 163.9C270.4 163.4 271.8 162.6 272.6 162.9C273.4 163.1 274.8 164.8 274.9 165.5C275.0 166.2 273.8 166.9 273.0 167.0C272.3 167.1 270.8 166.4 270.3 165.9C269.8 165.4 269.6 164.5 270.0 163.9ZM253.5 178.2C254.4 176.8 258.2 178.0 259.3 178.9C260.4 179.8 260.1 182.1 259.9 183.5C259.7 184.9 259.1 186.7 258.1 187.3C257.0 188.0 254.2 188.9 253.5 187.3C252.7 185.8 252.5 179.6 253.5 178.2ZM308.5 173.6C309.2 172.6 312.0 172.5 313.9 173.1C315.8 173.8 318.6 175.8 320.0 177.4C321.4 179.0 322.3 181.4 322.3 182.8C322.3 184.2 321.3 185.6 320.0 185.8C318.7 186.1 316.3 185.4 314.6 184.3C313.0 183.1 311.1 180.7 310.0 178.9C309.0 177.1 307.9 174.5 308.5 173.6ZM279.5 221.7C280.5 218.9 282.5 221.0 285.6 220.2C288.6 219.4 294.0 217.2 297.8 216.9C301.6 216.5 304.7 217.9 308.5 217.9C312.3 218.0 317.2 217.2 320.7 217.2C324.3 217.2 328.1 216.9 329.9 217.9C331.7 218.9 331.3 220.1 331.5 223.3C331.6 226.5 335.1 235.9 330.7 237.0C326.2 238.2 284.3 238.5 279.5 237.0C274.6 235.6 278.4 224.5 279.5 221.7ZM331.5 200.3C332.6 198.9 335.0 199.3 337.6 199.6C340.1 199.8 343.7 202.8 346.7 201.9C349.8 201.0 353.4 193.5 355.9 194.2C358.5 195.0 362.0 201.6 362.0 206.5C362.0 211.3 358.5 220.7 355.9 223.3C353.4 225.8 349.8 222.3 346.7 221.7C343.7 221.2 339.9 221.2 337.6 220.2C335.3 219.2 334.1 217.7 333.0 215.6C331.8 213.6 330.9 210.5 330.7 208.0C330.4 205.4 330.3 201.7 331.5 200.3ZM354.9 154.5C355.3 153.8 357.0 154.3 358.0 155.2C359.0 156.1 360.4 158.4 361.1 159.8C361.7 161.2 362.2 163.1 361.8 163.6C361.4 164.1 359.8 163.6 358.8 162.9C357.7 162.1 356.3 160.5 355.7 159.1C355.1 157.7 354.6 155.1 354.9 154.5ZM413.0 126.9C413.6 125.4 416.0 125.2 416.9 126.9C417.8 128.7 417.8 134.6 418.4 137.6C419.0 140.7 420.6 143.8 420.7 145.3C420.8 146.8 419.9 147.6 419.2 146.8C418.4 146.1 417.0 142.5 416.1 140.7C415.2 138.9 414.3 138.4 413.8 136.1C413.3 133.8 412.5 128.5 413.0 126.9ZM432.9 181.2C433.2 180.6 434.2 180.6 434.4 181.2C434.7 181.9 434.7 184.4 434.4 185.0C434.2 185.7 433.2 185.7 432.9 185.0C432.7 184.4 432.7 181.9 432.9 181.2ZM436.7 181.2C437.0 180.6 438.3 180.6 438.6 181.2C438.9 181.9 438.9 184.4 438.6 185.0C438.3 185.7 437.0 185.7 436.7 185.0C436.4 184.4 436.4 181.9 436.7 181.2ZM341.9 191.2C343.7 185.8 349.6 188.2 352.6 188.1C355.7 188.0 357.7 189.9 360.3 190.4C362.8 190.9 365.8 191.8 367.9 191.2C370.1 190.5 371.2 187.5 373.3 186.6C375.3 185.7 377.5 185.2 380.2 185.8C382.8 186.4 386.8 190.3 389.3 190.4C391.9 190.5 393.7 187.0 395.5 186.6C397.2 186.2 398.8 186.8 400.0 188.1C401.3 189.4 401.6 192.2 403.1 194.2C404.6 196.3 407.4 197.8 409.2 200.3C411.0 202.9 412.3 207.0 413.8 209.5C415.3 212.1 416.6 213.6 418.4 215.6C420.2 217.7 422.0 218.2 424.5 221.7C427.1 225.3 435.7 234.5 433.7 237.0C431.6 239.6 416.9 239.6 412.3 237.0C407.7 234.5 408.5 225.1 406.2 221.7C403.9 218.4 401.1 217.8 398.5 217.2C396.0 216.5 393.4 218.2 390.9 217.9C388.3 217.7 385.8 215.6 383.2 215.6C380.7 215.6 378.1 217.7 375.6 217.9C373.0 218.2 370.5 217.5 367.9 217.2C365.4 216.8 362.8 215.5 360.3 215.6C357.7 215.8 355.7 217.2 352.6 217.9C349.6 218.7 343.7 224.7 341.9 220.2C340.2 215.8 340.2 196.5 341.9 191.2ZM414.6 195.7C415.0 195.2 416.5 195.5 417.6 197.3C418.8 199.1 420.3 203.9 421.5 206.5C422.6 209.0 424.3 211.3 424.5 212.6C424.8 213.8 423.9 214.9 423.0 214.1C422.1 213.3 420.4 210.3 419.2 208.0C417.9 205.7 416.1 202.4 415.3 200.3C414.6 198.3 414.2 196.3 414.6 195.7ZM519.8 174.3C521.6 171.5 530.0 163.1 532.0 163.6C534.1 164.1 533.8 174.6 532.0 177.4C530.2 180.2 523.4 181.0 521.3 180.5C519.3 179.9 518.0 177.1 519.8 174.3ZM480.0 169.8C480.4 168.5 482.5 167.7 483.1 168.2C483.7 168.7 484.3 171.5 483.9 172.8C483.5 174.1 481.4 176.4 480.8 175.9C480.2 175.4 479.7 171.0 480.0 169.8ZM499.9 157.5C499.9 155.7 500.9 150.9 501.5 149.9C502.0 148.9 503.0 149.6 503.0 151.4C503.0 153.2 502.0 159.6 501.5 160.6C500.9 161.6 499.9 159.3 499.9 157.5ZM499.9 186.6C500.3 184.5 502.2 179.7 503.0 178.9C503.7 178.2 504.9 179.9 504.5 182.0C504.1 184.0 501.5 190.4 500.7 191.2C499.9 191.9 499.5 188.6 499.9 186.6ZM507.6 183.5C507.8 181.7 509.9 176.9 510.6 175.9C511.4 174.9 512.4 175.6 512.2 177.4C511.9 179.2 509.9 185.6 509.1 186.6C508.3 187.6 507.3 185.3 507.6 183.5ZM510.6 194.2C511.0 192.9 512.9 190.1 513.7 189.6C514.4 189.1 515.6 189.9 515.2 191.2C514.8 192.4 512.2 196.8 511.4 197.3C510.6 197.8 510.2 195.5 510.6 194.2ZM440.3 215.6C440.7 215.1 442.1 216.6 443.3 218.7C444.6 220.7 447.7 225.8 447.9 227.9C448.2 229.9 446.0 231.9 444.9 230.9C443.7 229.9 441.8 224.3 441.1 221.7C440.3 219.2 439.9 216.1 440.3 215.6ZM428.1 215.6C428.6 215.1 431.1 218.2 432.6 220.2C434.2 222.3 437.0 226.1 437.2 227.9C437.5 229.6 435.4 231.7 434.2 230.9C432.9 230.2 430.6 225.8 429.6 223.3C428.6 220.7 427.5 216.1 428.1 215.6ZM449.5 220.2C449.7 219.2 451.8 220.5 452.5 221.7C453.3 223.0 454.3 226.8 454.1 227.9C453.8 228.9 451.8 229.1 451.0 227.9C450.2 226.6 449.2 221.2 449.5 220.2ZM518.1 165.2C520.6 162.4 523.9 160.8 527.2 159.1C530.5 157.3 535.4 154.2 537.9 154.5C540.5 154.7 542.8 157.5 542.5 160.6C542.3 163.6 538.7 169.2 536.4 172.8C534.1 176.4 531.3 179.4 528.8 182.0C526.2 184.5 523.9 187.1 521.1 188.1C518.3 189.1 513.5 190.1 511.9 188.1C510.4 186.1 510.9 179.7 511.9 175.9C513.0 172.0 515.5 168.0 518.1 165.2ZM543.3 168.2C544.7 165.7 548.5 161.3 550.2 160.6C551.8 159.8 553.5 161.3 553.2 163.6C553.0 165.9 550.2 171.8 548.6 174.3C547.1 176.9 545.2 178.7 544.1 178.9C542.9 179.2 541.9 177.7 541.8 175.9C541.6 174.1 541.9 170.8 543.3 168.2ZM553.2 149.9C553.5 147.3 555.0 144.3 556.3 143.8C557.6 143.3 560.4 144.8 560.9 146.8C561.4 148.9 560.4 154.0 559.3 156.0C558.3 158.0 555.8 160.1 554.8 159.1C553.7 158.0 553.0 152.4 553.2 149.9ZM559.3 127.7C562.7 125.5 580.5 125.5 583.8 127.7C587.1 129.9 581.0 137.5 579.2 140.7C577.4 143.9 575.1 144.5 573.1 146.8C571.1 149.1 568.8 152.7 567.0 154.5C565.2 156.2 563.4 158.5 562.4 157.5C561.4 156.5 560.6 151.2 560.9 148.3C561.1 145.5 564.2 144.1 563.9 140.7C563.7 137.3 556.0 129.9 559.3 127.7ZM565.5 175.9C566.6 173.1 569.3 169.2 571.6 166.7C573.9 164.1 577.2 163.4 579.2 160.6C581.3 157.8 582.3 152.4 583.8 149.9C585.3 147.3 586.6 145.5 588.4 145.3C590.2 145.0 592.5 146.6 594.5 148.3C596.5 150.1 598.1 155.7 600.6 156.0C603.2 156.2 606.7 150.9 609.8 149.9C612.9 148.9 616.7 148.6 619.0 149.9C621.3 151.2 623.3 154.7 623.6 157.5C623.8 160.3 622.3 164.1 620.5 166.7C618.7 169.2 615.2 170.5 612.9 172.8C610.6 175.1 608.8 178.7 606.7 180.5C604.7 182.2 602.7 184.0 600.6 183.5C598.6 183.0 596.3 179.2 594.5 177.4C592.7 175.6 591.7 172.8 589.9 172.8C588.1 172.8 586.1 175.4 583.8 177.4C581.5 179.4 578.7 183.3 576.2 185.0C573.6 186.8 570.4 188.4 568.5 188.1C566.6 187.8 565.2 185.6 564.7 183.5C564.2 181.5 564.3 178.7 565.5 175.9ZM640.4 183.5C641.3 181.7 641.7 179.7 645.0 178.9C648.3 178.2 657.7 176.4 660.3 178.9C662.8 181.5 663.3 191.7 660.3 194.2C657.2 196.8 645.4 195.0 641.9 194.2C638.5 193.5 639.9 191.4 639.6 189.6C639.4 187.8 639.5 185.3 640.4 183.5ZM279.5 216.9C283.9 215.8 330.9 216.2 334.5 216.9C338.1 217.7 332.7 224.6 331.5 227.6C330.2 230.7 328.4 233.0 326.9 235.3C325.3 237.6 324.1 240.3 322.3 241.4C320.5 242.6 318.5 242.9 316.2 242.2C313.9 241.4 311.1 237.7 308.5 236.8C306.0 235.9 303.7 236.1 300.9 236.8C298.1 237.6 294.2 241.2 291.7 241.4C289.1 241.7 287.4 240.1 285.6 238.3C283.8 236.6 282.0 234.3 281.0 230.7C280.0 227.1 275.0 218.1 279.5 216.9ZM329.2 242.9C329.5 242.5 331.0 242.8 331.5 243.2C331.9 243.7 332.1 245.3 331.8 245.7C331.5 246.1 330.1 246.1 329.6 245.7C329.2 245.2 328.9 243.3 329.2 242.9ZM395.5 259.0C396.4 258.4 399.1 257.7 400.0 258.2C401.0 258.7 401.8 261.2 401.3 262.0C400.8 262.9 398.1 263.7 397.0 263.6C395.9 263.5 394.9 262.4 394.7 261.6C394.4 260.8 394.6 259.6 395.5 259.0ZM390.9 327.0C386.6 326.1 392.9 317.3 395.5 314.8C398.0 312.3 402.6 312.5 406.2 311.7C409.7 311.0 413.3 311.0 416.9 310.2C420.4 309.4 424.3 307.9 427.6 307.2C430.9 306.4 432.7 306.9 436.7 305.6C440.8 304.4 449.5 295.9 452.0 299.5C454.6 303.1 460.4 323.3 452.0 327.0C443.7 330.8 395.1 328.0 390.9 327.0ZM467.9 275.8C469.2 271.6 476.2 273.9 480.9 273.5C485.6 273.1 492.3 274.3 496.2 273.5C500.0 272.8 501.3 269.7 503.8 268.9C506.4 268.2 508.6 268.3 511.5 268.9C514.3 269.6 515.5 272.0 520.6 272.8C525.7 273.5 538.1 267.6 542.0 273.5C546.0 279.5 546.0 298.9 542.0 304.9C538.1 310.8 527.0 305.2 520.6 305.6C514.3 306.0 509.2 307.0 503.8 307.2C498.5 307.3 493.1 306.3 488.5 306.4C483.9 306.5 479.3 307.8 476.3 307.9C473.2 308.0 470.7 309.1 470.2 307.2C469.6 305.2 466.5 280.0 467.9 275.8ZM431.9 311.0C434.0 308.2 439.8 310.7 444.2 310.2C448.5 309.7 454.4 308.8 457.9 307.9C461.5 307.0 463.3 305.0 465.6 304.9C467.9 304.7 470.4 303.5 471.7 307.2C473.0 310.9 479.2 324.1 473.2 327.0C467.3 330.0 436.9 329.0 431.9 327.0C427.0 325.1 429.9 313.8 431.9 311.0ZM526.7 250.6C529.8 247.5 539.5 239.4 542.0 239.9C544.6 240.4 544.1 250.6 542.0 253.6C540.0 256.7 532.3 256.2 529.8 258.2C527.3 260.3 528.3 263.8 526.7 265.9C525.2 267.9 522.2 269.9 520.6 270.5C519.1 271.0 517.1 271.0 517.6 268.9C518.1 266.9 522.2 261.3 523.7 258.2C525.2 255.2 523.7 253.6 526.7 250.6ZM528.5 247.5C530.0 245.2 535.1 241.4 537.6 238.3C540.2 235.3 542.2 230.4 543.8 229.2C545.3 227.9 547.1 228.9 546.8 230.7C546.6 232.5 544.3 236.8 542.2 239.9C540.2 242.9 536.9 247.0 534.6 249.1C532.3 251.1 529.5 252.4 528.5 252.1C527.5 251.9 526.9 249.8 528.5 247.5ZM552.9 235.3C554.1 233.8 558.5 230.3 560.6 229.2C562.6 228.0 564.7 227.8 565.2 228.4C565.7 229.0 564.9 231.5 563.6 233.0C562.4 234.5 559.2 236.7 557.5 237.6C555.9 238.5 554.5 238.7 553.7 238.3C552.9 238.0 551.8 236.8 552.9 235.3ZM528.5 218.5C530.0 216.7 537.6 216.7 537.6 218.5C537.6 220.3 530.0 229.2 528.5 229.2C526.9 229.2 526.9 220.3 528.5 218.5ZM582.8 236.8C583.3 235.5 586.4 233.4 588.1 233.0C589.8 232.6 592.2 233.5 592.7 234.5C593.2 235.5 592.4 238.1 591.2 239.1C589.9 240.1 586.4 241.0 585.0 240.6C583.6 240.3 582.2 238.1 582.8 236.8ZM526.9 272.0C529.0 267.1 535.1 271.5 539.2 270.5C543.3 269.4 547.3 267.0 551.4 265.9C555.5 264.7 559.6 263.8 563.6 263.6C567.7 263.3 571.8 263.7 575.9 264.3C579.9 265.0 584.3 267.1 588.1 267.4C591.9 267.7 595.0 266.4 598.8 265.9C602.6 265.4 607.2 264.6 611.0 264.3C614.9 264.1 618.7 263.8 621.7 264.3C624.8 264.9 627.3 265.1 629.4 267.4C631.4 269.7 633.5 274.8 634.0 278.1C634.5 281.4 634.5 284.5 632.4 287.3C630.4 290.1 625.1 292.4 621.7 294.9C618.4 297.5 615.1 299.8 612.6 302.6C610.0 305.4 610.0 309.7 606.5 311.7C602.9 313.8 596.3 314.5 591.2 314.8C586.1 315.1 581.0 313.3 575.9 313.3C570.8 313.3 564.9 315.1 560.6 314.8C556.2 314.5 553.4 313.3 549.9 311.7C546.3 310.2 543.0 307.7 539.2 305.6C535.4 303.6 529.0 305.1 526.9 299.5C524.9 293.9 524.9 276.8 526.9 272.0ZM318.7 356.5C319.2 354.9 321.4 354.4 324.0 353.8C326.7 353.3 331.3 353.0 334.6 353.1C338.0 353.3 342.2 352.8 343.9 354.5C345.7 356.1 345.4 359.9 345.3 363.1C345.2 366.3 344.6 371.5 343.3 373.7C342.0 375.9 339.6 376.2 337.3 376.4C335.0 376.6 331.1 376.4 329.3 375.0C327.6 373.7 328.0 370.4 326.7 368.4C325.4 366.4 322.7 365.1 321.4 363.1C320.0 361.1 318.3 358.0 318.7 356.5ZM371.8 331.2C372.5 329.5 376.2 325.5 377.1 327.3C378.0 329.0 377.8 340.1 377.1 341.9C376.5 343.6 374.0 339.6 373.1 337.9C372.3 336.1 371.2 333.0 371.8 331.2ZM363.9 381.7C364.7 379.3 367.3 381.9 369.2 383.0C371.0 384.1 373.7 385.9 375.0 388.3C376.3 390.8 379.0 396.1 377.1 397.6C375.3 399.2 366.1 400.3 363.9 397.6C361.6 395.0 363.0 384.1 363.9 381.7ZM371.6 329.9C372.5 327.5 375.4 323.7 378.3 321.9C381.2 320.2 386.2 320.4 388.9 319.3C391.5 318.2 391.5 315.8 394.2 315.3C396.9 314.9 400.8 316.6 404.8 316.6C408.8 316.6 414.1 316.0 418.1 315.3C422.1 314.6 425.2 313.8 428.7 312.7C432.3 311.5 435.6 308.9 439.3 308.7C443.1 308.4 482.5 307.3 487.1 308.7C491.8 310.1 489.8 320.8 487.1 323.3C484.5 325.7 475.6 322.8 471.2 323.3C466.8 323.7 464.1 323.7 460.6 325.9C457.0 328.1 452.6 334.8 450.0 336.5C447.3 338.3 446.4 335.4 444.6 336.5C442.9 337.7 441.6 341.6 439.3 343.2C437.1 344.7 434.0 344.7 431.4 345.8C428.7 346.9 425.2 348.3 423.4 349.8C421.6 351.4 422.5 353.6 420.8 355.1C419.0 356.7 415.4 358.2 412.8 359.1C410.1 360.0 407.3 360.7 404.8 360.4C402.4 360.2 400.2 358.9 398.2 357.8C396.2 356.7 394.9 355.4 392.9 353.8C390.9 352.3 388.7 350.0 386.2 348.5C383.8 346.9 380.5 346.5 378.3 344.5C376.1 342.5 374.1 339.0 373.0 336.5C371.9 334.1 370.8 332.3 371.6 329.9ZM391.5 353.8C392.5 353.6 397.3 355.8 398.2 357.8C399.1 359.8 397.3 363.1 396.9 365.8C396.4 368.4 396.1 373.7 395.5 373.7C395.0 373.7 394.1 368.2 393.5 365.8C393.0 363.3 392.5 361.1 392.2 359.1C391.9 357.1 390.6 354.0 391.5 353.8ZM472.5 340.5C472.5 337.9 473.9 333.2 475.2 332.6C476.5 331.9 478.5 334.6 480.5 336.5C482.5 338.5 486.0 341.4 487.1 344.5C488.2 347.6 488.2 353.6 487.1 355.1C486.0 356.7 482.5 354.9 480.5 353.8C478.5 352.7 476.5 350.7 475.2 348.5C473.9 346.3 472.5 343.2 472.5 340.5ZM436.7 384.3C437.1 381.7 438.0 377.3 439.3 373.7C440.7 370.2 442.9 366.9 444.6 363.1C446.4 359.3 447.7 353.4 450.0 351.2C452.2 348.9 455.3 349.2 457.9 349.8C460.6 350.5 463.9 352.9 465.9 355.1C467.9 357.3 469.4 359.6 469.9 363.1C470.3 366.6 469.7 373.3 468.5 376.4C467.4 379.5 465.0 380.4 463.2 381.7C461.5 383.0 459.9 383.5 457.9 384.3C455.9 385.2 453.5 386.1 451.3 387.0C449.1 387.9 446.6 388.8 444.6 389.6C442.7 390.5 440.7 392.3 439.3 392.3C438.0 392.3 437.1 391.0 436.7 389.6C436.2 388.3 436.2 387.0 436.7 384.3ZM469.9 397.6C467.4 395.8 470.8 389.0 472.5 387.0C474.3 385.0 478.1 385.4 480.5 385.7C482.9 385.9 486.0 386.3 487.1 388.3C488.2 390.3 490.0 396.1 487.1 397.6C484.3 399.2 472.3 399.4 469.9 397.6ZM363.7 384.3C364.8 382.3 368.8 383.5 370.3 385.7C371.9 387.9 374.1 395.6 373.0 397.6C371.9 399.6 365.2 399.8 363.7 397.6C362.1 395.4 362.6 386.3 363.7 384.3ZM537.4 307.3C540.7 306.9 594.5 307.0 597.1 307.3C599.8 307.7 599.8 313.7 597.1 315.3C594.5 317.0 586.1 316.9 581.2 317.3C576.3 317.7 572.3 318.2 567.9 318.0C563.5 317.7 558.6 316.5 554.6 316.0C550.7 315.4 546.9 316.1 544.0 314.6C541.2 313.2 534.1 307.8 537.4 307.3ZM520.1 353.8C520.8 352.0 522.0 351.4 522.1 352.5C522.2 353.6 521.2 358.0 520.8 360.4C520.4 362.9 519.9 366.6 519.5 367.1C519.0 367.5 518.0 365.3 518.1 363.1C518.3 360.9 519.5 355.6 520.1 353.8ZM473.7 333.9C474.6 332.1 477.7 336.1 479.0 337.9C480.3 339.6 481.0 342.1 481.6 344.5C482.3 346.9 483.2 350.7 483.0 352.5C482.7 354.2 481.9 355.8 480.3 355.1C478.8 354.5 474.8 352.0 473.7 348.5C472.6 345.0 472.8 335.7 473.7 333.9ZM487.6 339.2C488.1 338.3 489.9 339.2 490.9 340.5C491.9 341.9 493.6 345.4 493.6 347.2C493.6 348.9 491.8 351.4 490.9 351.2C490.0 350.9 488.8 347.8 488.3 345.8C487.7 343.9 487.2 340.1 487.6 339.2ZM473.7 385.7C476.1 383.5 484.1 385.2 488.3 384.3C492.5 383.5 496.0 383.5 498.9 380.4C501.8 377.3 504.0 366.9 505.5 365.8C507.1 364.6 507.3 371.1 508.2 373.7C509.1 376.4 509.1 379.9 510.8 381.7C512.6 383.5 517.3 381.7 518.8 384.3C520.4 387.0 524.4 396.4 520.1 397.6C515.9 398.9 477.5 398.6 473.7 397.6C469.8 396.6 471.2 387.9 473.7 385.7ZM573.7 307.4C576.4 306.7 604.7 307.2 606.2 307.4C607.7 307.6 607.5 310.9 605.5 311.9C603.6 313.0 598.3 313.2 594.5 313.9C590.7 314.5 586.3 315.5 582.8 315.8C579.3 316.2 575.2 317.3 573.7 315.8C572.2 314.4 571.0 308.1 573.7 307.4ZM500.5 152.0C500.8 150.4 502.2 149.5 502.5 150.6C502.9 151.8 502.9 157.3 502.5 158.9C502.2 160.5 500.8 161.4 500.5 160.3C500.1 159.1 500.1 153.6 500.5 152.0ZM499.1 185.0C499.4 183.4 501.3 181.6 501.8 182.3C502.4 183.0 502.9 187.6 502.5 189.2C502.2 190.8 500.3 192.6 499.8 191.9C499.2 191.2 498.7 186.6 499.1 185.0ZM510.1 190.5C510.5 188.7 513.3 185.5 514.2 185.0C515.1 184.6 516.0 186.0 515.6 187.8C515.1 189.6 512.4 195.6 511.5 196.1C510.5 196.5 509.6 192.4 510.1 190.5ZM395.9 208.6C398.9 207.7 410.1 207.0 413.8 208.6C417.4 210.2 416.3 215.3 417.9 218.3C419.5 221.2 421.8 224.0 423.4 226.5C425.0 229.0 427.3 231.8 427.5 233.4C427.8 235.0 426.4 236.8 424.8 236.1C423.2 235.5 420.2 231.8 417.9 229.3C415.6 226.7 413.3 223.3 411.0 221.0C408.7 218.7 406.7 216.7 404.1 215.5C401.6 214.4 397.2 215.3 395.9 214.1C394.5 213.0 392.9 209.5 395.9 208.6ZM395.9 237.5C397.5 233.4 402.5 237.8 405.5 238.9C408.5 240.0 410.5 242.3 413.8 244.4C417.0 246.5 421.6 249.2 424.8 251.3C428.0 253.3 430.7 254.5 433.0 256.8C435.3 259.1 437.8 262.7 438.5 265.0C439.2 267.3 439.0 269.6 437.2 270.5C435.3 271.5 431.0 271.0 427.5 270.5C424.1 270.1 419.7 268.7 416.5 267.8C413.3 266.9 411.7 265.7 408.3 265.0C404.8 264.4 397.9 268.3 395.9 263.7C393.8 259.1 394.3 241.6 395.9 237.5ZM427.5 241.6C428.1 241.0 431.4 241.6 433.0 243.0C434.6 244.4 436.2 247.8 437.2 249.9C438.1 252.0 439.0 255.0 438.5 255.4C438.1 255.9 435.9 254.0 434.4 252.7C432.9 251.3 430.7 249.0 429.6 247.2C428.4 245.3 426.9 242.3 427.5 241.6ZM441.3 258.2C442.0 257.5 444.4 259.3 445.4 260.9C446.4 262.5 447.7 266.2 447.5 267.8C447.2 269.4 445.1 271.0 444.0 270.5C443.0 270.1 441.7 267.1 441.3 265.0C440.8 263.0 440.6 258.9 441.3 258.2ZM488.1 243.0C488.8 241.8 491.3 239.8 492.2 240.3C493.1 240.7 493.9 244.2 493.6 245.8C493.2 247.4 491.1 249.6 490.1 249.9C489.2 250.3 488.1 249.0 487.8 247.8C487.5 246.7 487.3 244.3 488.1 243.0ZM501.8 251.3C502.5 248.5 506.4 243.5 508.7 240.3C511.0 237.1 513.5 233.9 515.6 232.0C517.7 230.2 520.2 228.3 521.1 229.3C522.0 230.2 522.2 235.5 521.1 237.5C519.9 239.6 516.3 239.6 514.2 241.6C512.2 243.7 510.3 247.4 508.7 249.9C507.1 252.4 505.7 256.6 504.6 256.8C503.4 257.0 501.1 254.0 501.8 251.3ZM533.8 185.3C534.5 181.5 539.9 172.7 542.9 167.0C546.0 161.2 549.4 155.1 552.1 150.9C554.8 146.7 557.1 142.9 559.0 141.8C560.9 140.6 563.9 141.4 563.5 144.0C563.2 146.7 559.3 152.8 556.7 157.8C554.0 162.8 550.6 168.5 547.5 173.8C544.4 179.2 540.6 188.0 538.3 189.9C536.0 191.8 533.0 189.1 533.8 185.3ZM520.0 180.7C520.8 176.5 524.2 167.5 526.9 162.4C529.6 157.2 533.6 152.4 536.0 149.8C538.5 147.1 540.6 146.0 541.8 146.3C542.9 146.7 543.9 149.4 542.9 152.1C542.0 154.7 538.3 158.8 536.0 162.4C533.8 166.0 531.5 169.6 529.2 173.8C526.9 178.0 523.8 186.4 522.3 187.6C520.8 188.7 519.2 184.9 520.0 180.7Z"/>
<path fill="#ffa000" d="M289.4 146.8C289.8 145.9 291.4 145.7 292.5 146.5C293.5 147.3 294.9 150.0 295.5 151.4C296.1 152.9 296.4 154.5 296.0 155.2C295.6 155.9 294.2 156.2 293.2 155.7C292.3 155.2 290.8 153.6 290.2 152.2C289.5 150.7 289.0 147.8 289.4 146.8ZM290.9 225.6C292.3 222.9 296.7 221.7 299.3 221.0C302.0 220.3 304.7 221.2 307.0 221.4C309.3 221.7 311.6 221.7 313.1 222.5C314.6 223.3 315.7 223.9 316.2 226.3C316.7 228.8 320.4 235.2 316.2 237.0C312.0 238.8 295.1 238.9 290.9 237.0C286.7 235.1 289.5 228.2 290.9 225.6ZM335.3 207.2C336.0 205.4 338.5 205.1 340.6 204.9C342.8 204.8 346.6 205.4 348.3 206.5C349.9 207.5 350.8 209.1 350.6 211.0C350.3 213.0 348.4 216.4 346.7 217.9C345.1 219.4 342.4 220.6 340.6 220.2C338.8 219.8 336.9 217.8 336.0 215.6C335.1 213.5 334.5 209.0 335.3 207.2ZM341.9 204.9C343.2 202.9 347.8 207.7 349.6 206.5C351.4 205.2 351.1 199.6 352.6 197.3C354.2 195.0 356.7 193.2 358.8 192.7C360.8 192.2 363.0 192.9 364.9 194.2C366.8 195.5 368.8 200.8 370.2 200.3C371.6 199.8 371.9 193.1 373.3 191.2C374.7 189.3 376.7 188.6 378.6 188.9C380.6 189.1 382.7 190.5 384.8 192.7C386.8 194.9 389.6 199.1 390.9 201.9C392.1 204.7 392.9 207.7 392.4 209.5C391.9 211.3 389.6 212.3 387.8 212.6C386.0 212.8 383.7 210.9 381.7 211.0C379.7 211.2 377.9 213.1 375.6 213.3C373.3 213.6 370.5 212.7 367.9 212.6C365.4 212.4 362.8 212.2 360.3 212.6C357.7 213.0 355.7 213.8 352.6 214.9C349.6 215.9 343.7 220.3 341.9 218.7C340.2 217.0 340.7 207.0 341.9 204.9ZM399.3 197.3C399.9 196.8 401.7 197.0 403.1 198.8C404.5 200.6 406.2 204.9 407.7 208.0C409.2 211.0 410.7 214.4 412.3 217.2C413.8 220.0 416.6 223.4 416.9 224.8C417.1 226.2 415.3 226.6 413.8 225.6C412.3 224.5 409.6 221.4 407.7 218.7C405.8 216.0 403.7 212.3 402.3 209.5C400.9 206.7 399.8 203.9 399.3 201.9C398.8 199.8 398.6 197.8 399.3 197.3ZM521.3 171.3C523.0 169.2 530.2 164.4 532.0 165.2C533.8 165.9 533.7 173.8 532.0 175.9C530.4 177.9 523.9 178.2 522.1 177.4C520.3 176.6 519.7 173.3 521.3 171.3ZM520.4 171.3C521.1 168.9 524.2 165.4 525.7 164.4C527.2 163.4 529.3 163.8 529.5 165.2C529.8 166.6 528.6 170.5 527.2 172.8C525.8 175.1 522.3 179.2 521.1 178.9C520.0 178.7 519.6 173.7 520.4 171.3ZM544.8 169.8C545.3 168.0 548.5 164.7 549.4 164.4C550.3 164.1 550.7 166.4 550.2 168.2C549.7 170.0 547.2 174.9 546.3 175.1C545.5 175.4 544.3 171.5 544.8 169.8ZM554.4 151.4C554.8 149.7 556.2 147.2 557.0 146.8C557.9 146.4 559.2 147.6 559.3 149.1C559.5 150.6 558.5 154.6 557.8 156.0C557.1 157.3 555.6 158.0 555.1 157.2C554.5 156.5 554.1 153.1 554.4 151.4ZM565.5 126.9C567.4 125.2 577.4 124.6 579.2 126.9C581.0 129.2 577.7 137.4 576.2 140.7C574.6 144.0 571.6 146.1 570.0 146.8C568.5 147.6 567.4 146.8 567.0 145.3C566.6 143.8 568.0 140.7 567.8 137.6C567.5 134.6 563.5 128.7 565.5 126.9ZM568.5 178.9C569.4 176.5 572.3 170.8 574.6 168.2C576.9 165.7 580.5 165.9 582.3 163.6C584.1 161.3 584.1 156.8 585.3 154.5C586.6 152.2 588.4 149.6 589.9 149.9C591.5 150.1 592.7 154.0 594.5 156.0C596.3 158.0 598.1 162.4 600.6 162.1C603.2 161.9 607.0 155.7 609.8 154.5C612.6 153.2 615.9 153.4 617.4 154.5C619.0 155.5 619.7 158.3 619.0 160.6C618.2 162.9 614.9 165.7 612.9 168.2C610.8 170.8 608.8 174.1 606.7 175.9C604.7 177.7 602.4 179.7 600.6 178.9C598.8 178.2 597.8 173.3 596.0 171.3C594.3 169.2 592.2 166.2 589.9 166.7C587.6 167.2 584.8 171.8 582.3 174.3C579.7 176.9 576.8 180.6 574.6 182.0C572.5 183.4 570.3 183.3 569.3 182.8C568.3 182.2 567.6 181.4 568.5 178.9ZM287.9 227.6C288.9 226.2 291.8 224.1 294.8 223.1C297.7 222.0 302.1 221.3 305.5 221.5C308.8 221.8 312.8 223.4 314.6 224.6C316.4 225.7 316.9 227.4 316.2 228.4C315.4 229.4 312.6 230.3 310.0 230.7C307.5 231.1 303.7 230.3 300.9 230.7C298.1 231.1 295.3 232.9 293.2 233.0C291.2 233.1 289.5 232.4 288.6 231.5C287.7 230.6 286.9 229.0 287.9 227.6ZM409.2 327.0C405.2 325.8 409.7 317.3 412.3 314.8C414.8 312.3 420.4 312.8 424.5 311.7C428.6 310.7 432.2 310.0 436.7 308.7C441.3 307.4 449.5 301.0 452.0 304.1C454.6 307.2 458.8 323.4 452.0 327.0C445.3 330.6 413.2 328.3 409.2 327.0ZM468.6 278.1C470.0 274.7 474.5 275.8 477.8 275.8C481.1 275.8 484.9 278.0 488.5 278.1C492.1 278.2 496.4 277.6 499.2 276.6C502.0 275.6 502.8 272.5 505.3 272.0C507.9 271.5 511.5 272.8 514.5 273.5C517.6 274.3 519.1 275.9 523.7 276.6C528.3 277.2 539.0 273.3 542.0 277.3C545.1 281.4 544.6 296.8 542.0 301.0C539.5 305.2 531.3 302.4 526.7 302.6C522.2 302.7 518.6 301.5 514.5 301.8C510.4 302.1 506.1 303.8 502.3 304.1C498.5 304.4 495.1 303.2 491.6 303.3C488.0 303.5 483.9 304.9 480.9 304.9C477.8 304.9 475.1 304.7 473.2 303.3C471.3 301.9 470.2 300.7 469.4 296.5C468.6 292.2 467.2 281.5 468.6 278.1ZM444.2 317.9C445.2 315.8 447.5 315.3 450.3 314.8C453.1 314.3 458.4 315.6 461.0 314.8C463.5 314.0 464.2 310.5 465.6 310.2C467.0 310.0 468.5 310.5 469.4 313.3C470.3 316.1 475.1 324.7 470.9 327.0C466.7 329.3 448.6 328.6 444.2 327.0C439.7 325.5 443.2 319.9 444.2 317.9ZM526.9 278.1C529.5 275.0 537.4 277.8 542.2 276.6C547.1 275.3 551.4 272.0 556.0 270.5C560.6 268.9 565.7 267.4 569.8 267.4C573.8 267.4 577.4 268.9 580.5 270.5C583.5 272.0 585.0 275.9 588.1 276.6C591.2 277.2 594.7 274.9 598.8 274.3C602.9 273.6 609.0 272.4 612.6 272.8C616.1 273.1 618.9 274.7 620.2 276.6C621.5 278.5 621.5 281.7 620.2 284.2C618.9 286.8 615.1 289.3 612.6 291.9C610.0 294.4 607.0 297.2 604.9 299.5C602.9 301.8 602.6 304.7 600.3 305.6C598.0 306.5 593.5 305.9 591.2 304.9C588.9 303.8 587.8 301.7 586.6 299.5C585.3 297.3 584.8 293.5 583.5 291.9C582.2 290.2 580.7 288.8 578.9 289.6C577.1 290.3 574.9 294.2 572.8 296.5C570.8 298.7 569.0 301.8 566.7 303.3C564.4 304.9 561.3 304.5 559.1 305.6C556.8 306.8 555.2 310.0 552.9 310.2C550.6 310.5 547.8 308.9 545.3 307.2C542.7 305.4 540.7 301.5 537.6 299.5C534.6 297.5 528.7 298.5 526.9 294.9C525.2 291.4 524.4 281.2 526.9 278.1ZM381.6 332.6C382.6 330.8 385.0 328.6 387.6 327.3C390.1 325.9 393.8 324.4 396.9 324.6C400.0 324.8 403.3 327.3 406.2 328.6C409.0 329.9 411.7 331.2 414.1 332.6C416.6 333.9 419.2 334.6 420.8 336.5C422.3 338.5 423.2 342.1 423.4 344.5C423.6 346.9 423.4 349.3 422.1 351.2C420.8 353.0 417.9 354.9 415.4 355.8C413.0 356.7 409.7 357.0 407.5 356.5C405.3 355.9 403.9 354.0 402.2 352.5C400.4 350.9 398.6 348.3 396.9 347.2C395.1 346.1 393.5 346.5 391.5 345.8C389.6 345.2 386.6 344.5 384.9 343.2C383.3 341.9 382.1 339.6 381.6 337.9C381.0 336.1 380.6 334.3 381.6 332.6ZM422.1 321.9C423.1 319.7 426.3 317.7 428.7 316.6C431.2 315.5 434.5 315.1 436.7 315.3C438.9 315.5 440.9 316.2 442.0 318.0C443.1 319.7 443.3 323.3 443.3 325.9C443.3 328.6 443.1 332.1 442.0 333.9C440.9 335.7 438.7 335.7 436.7 336.5C434.7 337.4 432.0 339.2 430.0 339.2C428.1 339.2 426.0 338.1 424.7 336.5C423.5 335.0 423.2 332.3 422.7 329.9C422.3 327.5 421.1 324.2 422.1 321.9ZM444.6 308.7C446.0 305.1 451.5 306.7 452.6 308.7C453.7 310.7 451.7 316.9 451.3 320.6C450.8 324.4 450.6 328.6 450.0 331.2C449.3 333.9 448.2 336.8 447.3 336.5C446.4 336.3 445.1 334.6 444.6 329.9C444.2 325.3 443.3 312.2 444.6 308.7ZM455.3 308.7C457.0 306.5 465.7 307.1 467.2 308.7C468.8 310.2 465.7 315.3 464.6 318.0C463.5 320.6 461.9 323.9 460.6 324.6C459.3 325.3 457.5 324.6 456.6 321.9C455.7 319.3 453.5 310.9 455.3 308.7ZM475.8 338.5C476.1 337.7 477.9 338.9 479.2 340.5C480.4 342.2 482.7 346.7 483.1 348.5C483.6 350.3 482.7 351.6 481.8 351.2C480.9 350.7 478.8 347.9 477.8 345.8C476.8 343.7 475.6 339.4 475.8 338.5ZM439.3 383.0C440.0 380.1 442.9 374.2 444.6 369.7C446.4 365.3 448.2 359.3 450.0 356.5C451.7 353.6 453.9 351.4 455.3 352.5C456.6 353.6 457.9 359.8 457.9 363.1C457.9 366.4 456.6 369.7 455.3 372.4C453.9 375.0 451.7 377.0 450.0 379.0C448.2 381.0 446.2 383.0 444.6 384.3C443.1 385.7 441.6 387.2 440.7 387.0C439.8 386.8 438.7 385.9 439.3 383.0ZM459.3 353.8C460.0 352.0 463.2 355.8 464.6 357.8C465.9 359.8 467.0 362.9 467.2 365.8C467.4 368.6 466.8 373.3 465.9 375.0C465.0 376.8 462.9 377.5 461.9 376.4C460.9 375.3 460.4 372.2 459.9 368.4C459.5 364.6 458.5 355.6 459.3 353.8ZM472.5 397.6C470.5 396.2 472.7 390.3 475.2 389.0C477.6 387.7 485.1 388.2 487.1 389.6C489.1 391.1 489.6 396.3 487.1 397.6C484.7 398.9 474.5 399.1 472.5 397.6ZM546.7 308.7C547.8 308.2 553.8 308.2 554.6 308.7C555.5 309.1 553.1 310.9 552.0 311.3C550.9 311.8 548.9 311.8 548.0 311.3C547.1 310.9 545.6 309.1 546.7 308.7ZM475.7 339.2C476.1 338.3 477.5 339.0 478.3 340.5C479.1 342.1 480.3 346.9 480.3 348.5C480.3 350.0 479.1 350.3 478.3 349.8C477.5 349.4 476.1 347.6 475.7 345.8C475.2 344.1 475.2 340.1 475.7 339.2ZM488.3 397.6C485.0 395.6 492.3 388.5 494.9 385.7C497.6 382.8 502.4 383.0 504.2 380.4C506.0 377.7 505.0 369.5 505.5 369.7C506.1 370.0 506.0 377.0 507.5 381.7C509.1 386.3 518.0 395.0 514.8 397.6C511.6 400.3 491.6 399.6 488.3 397.6ZM402.8 208.6C403.7 207.9 408.0 207.2 409.6 208.6C411.2 210.0 412.6 215.5 412.4 216.9C412.2 218.3 409.6 217.6 408.3 216.9C406.9 216.2 405.0 214.1 404.1 212.8C403.2 211.4 401.8 209.3 402.8 208.6ZM402.8 243.0C403.7 241.6 406.0 241.9 408.3 243.0C410.5 244.2 413.3 247.6 416.5 249.9C419.7 252.2 424.5 254.5 427.5 256.8C430.5 259.1 433.0 261.6 434.4 263.7C435.8 265.7 436.9 268.5 435.8 269.2C434.6 269.9 430.5 268.7 427.5 267.8C424.5 266.9 421.1 265.3 417.9 263.7C414.7 262.1 410.8 260.2 408.3 258.2C405.7 256.1 403.7 253.8 402.8 251.3C401.8 248.8 401.8 244.4 402.8 243.0ZM504.6 249.9C504.7 249.0 506.6 246.1 507.3 245.8C508.0 245.4 508.8 246.9 508.7 247.8C508.6 248.8 507.3 250.9 506.6 251.3C506.0 251.6 504.5 250.8 504.6 249.9ZM539.5 177.3C540.1 174.8 544.1 168.7 546.4 164.7C548.7 160.7 551.5 154.9 553.2 153.2C555.0 151.5 557.1 152.3 556.7 154.4C556.3 156.5 553.2 161.6 550.9 165.8C548.7 170.0 544.8 177.7 542.9 179.6C541.0 181.5 538.9 179.8 539.5 177.3ZM522.3 176.1C523.1 173.3 526.9 166.2 529.2 162.4C531.5 158.6 534.5 154.4 536.0 153.2C537.6 152.1 539.1 153.2 538.3 155.5C537.6 157.8 533.8 163.0 531.5 167.0C529.2 171.0 526.1 178.0 524.6 179.6C523.1 181.1 521.5 179.0 522.3 176.1Z"/>
<path fill="#ff6e00" d="M340.6 211.0C341.1 210.4 342.9 209.6 343.7 209.8C344.4 210.1 345.3 211.7 345.2 212.6C345.1 213.4 343.6 214.7 342.9 214.9C342.2 215.1 341.3 214.4 340.9 213.8C340.6 213.2 340.2 211.7 340.6 211.0ZM359.5 198.0C360.6 197.5 363.2 197.7 364.9 198.8C366.5 200.0 368.6 202.9 369.5 204.9C370.4 207.0 371.0 210.0 370.2 211.0C369.5 212.1 366.5 211.8 364.9 211.0C363.2 210.3 361.4 208.0 360.3 206.5C359.2 204.9 358.6 203.3 358.5 201.9C358.3 200.5 358.5 198.6 359.5 198.0ZM376.3 194.2C376.9 193.5 379.4 193.7 380.9 195.0C382.5 196.3 384.6 200.1 385.5 201.9C386.4 203.6 386.8 205.2 386.3 205.7C385.8 206.2 383.9 205.9 382.5 204.9C381.1 203.9 378.9 201.4 377.9 199.6C376.9 197.8 375.8 195.0 376.3 194.2ZM402.3 202.6C402.6 201.9 403.6 201.7 404.6 203.4C405.7 205.1 407.2 209.8 408.5 212.6C409.7 215.4 411.9 218.7 412.3 220.2C412.7 221.7 411.8 222.6 410.7 221.7C409.7 220.9 407.4 217.2 406.2 214.9C404.9 212.6 403.7 210.0 403.1 208.0C402.5 205.9 402.1 203.4 402.3 202.6ZM572.3 176.6C572.6 174.9 574.8 170.3 576.2 168.2C577.6 166.2 579.6 164.5 580.7 164.4C581.9 164.3 583.3 165.9 583.0 167.5C582.8 169.0 580.6 171.7 579.2 173.6C577.8 175.5 575.8 178.4 574.6 178.9C573.5 179.4 572.1 178.4 572.3 176.6ZM470.9 281.2C472.0 279.0 475.1 278.9 477.8 278.9C480.5 278.9 483.9 280.9 487.0 281.2C490.0 281.4 493.4 280.9 496.2 280.4C499.0 279.9 501.3 278.1 503.8 278.1C506.4 278.1 508.6 279.8 511.5 280.4C514.3 281.0 517.8 281.4 520.6 281.9C523.4 282.4 526.5 282.3 528.3 283.5C530.1 284.6 531.6 286.9 531.3 288.8C531.1 290.7 529.0 293.6 526.7 294.9C524.4 296.2 520.6 295.9 517.6 296.5C514.5 297.0 511.5 297.5 508.4 298.0C505.3 298.5 502.3 299.4 499.2 299.5C496.2 299.6 493.1 298.6 490.0 298.7C487.0 298.9 483.4 300.4 480.9 300.3C478.3 300.1 476.3 299.4 474.8 298.0C473.2 296.6 472.3 294.7 471.7 291.9C471.1 289.1 469.9 283.3 470.9 281.2ZM464.8 305.6C465.2 298.5 467.1 288.3 467.9 284.2C468.6 280.1 469.0 279.1 469.4 281.2C469.8 283.2 470.2 291.4 470.2 296.5C470.2 301.5 469.8 306.6 469.4 311.7C469.0 316.8 468.5 324.5 467.9 327.0C467.2 329.6 466.1 330.6 465.6 327.0C465.1 323.5 464.4 312.8 464.8 305.6ZM546.8 288.8C547.4 286.3 549.2 285.4 550.6 284.2C552.0 283.1 554.2 280.7 555.2 281.9C556.2 283.2 556.9 288.9 556.8 291.9C556.6 294.8 555.6 297.2 554.5 299.5C553.3 301.8 551.1 305.6 549.9 305.6C548.7 305.6 547.6 302.3 547.1 299.5C546.6 296.7 546.2 291.4 546.8 288.8ZM594.2 286.5C594.7 284.6 598.4 282.2 599.6 281.9C600.7 281.7 601.4 283.8 601.1 285.0C600.8 286.1 598.4 287.3 598.0 288.8C597.7 290.3 599.1 293.4 598.8 294.2C598.6 294.9 597.3 294.7 596.5 293.4C595.7 292.1 593.7 288.4 594.2 286.5ZM401.5 335.2C402.2 333.7 404.7 331.0 406.2 331.2C407.6 331.5 408.9 334.6 410.1 336.5C411.4 338.5 413.0 341.0 413.5 343.2C413.9 345.4 413.8 348.5 412.8 349.8C411.8 351.2 408.9 351.8 407.5 351.2C406.0 350.5 405.1 347.6 404.2 345.8C403.2 344.1 402.3 342.3 401.9 340.5C401.5 338.8 400.8 336.8 401.5 335.2ZM426.1 323.9C426.3 323.2 427.4 323.1 427.7 323.9C427.9 324.8 427.9 328.5 427.7 329.2C427.4 330.0 426.3 329.5 426.1 328.6C425.8 327.7 425.8 324.7 426.1 323.9ZM435.4 319.3C435.8 318.6 437.3 318.6 437.7 319.3C438.1 320.0 438.1 322.6 437.7 323.3C437.3 323.9 435.8 323.9 435.4 323.3C435.0 322.6 435.0 320.0 435.4 319.3ZM447.3 312.7C447.7 311.5 449.6 311.3 450.0 312.7C450.3 314.0 449.7 319.5 449.3 320.6C448.9 321.7 447.6 320.6 447.3 319.3C447.0 318.0 446.9 313.8 447.3 312.7ZM463.9 308.7C464.3 307.6 466.3 307.3 466.6 308.7C466.8 310.0 465.7 315.5 465.2 316.6C464.8 317.7 464.1 316.6 463.9 315.3C463.7 314.0 463.5 309.8 463.9 308.7ZM446.0 373.7C446.3 371.1 448.7 363.8 450.0 360.4C451.2 357.1 452.5 353.8 453.3 353.8C454.1 353.8 454.9 357.8 454.6 360.4C454.3 363.1 452.4 367.1 451.3 369.7C450.2 372.4 448.9 375.7 448.0 376.4C447.1 377.0 445.6 376.4 446.0 373.7ZM462.6 365.8C462.8 364.0 464.1 362.2 464.6 363.1C465.0 364.0 465.4 369.3 465.2 371.1C465.0 372.8 463.7 374.6 463.2 373.7C462.8 372.8 462.3 367.5 462.6 365.8ZM498.9 397.6C498.1 395.8 500.6 389.2 501.5 387.0C502.5 384.8 504.1 382.6 504.9 384.3C505.6 386.1 507.2 395.4 506.2 397.6C505.2 399.8 499.7 399.4 498.9 397.6ZM408.3 248.5C408.8 247.6 411.0 247.2 412.4 247.8C413.8 248.5 415.6 250.9 416.5 252.7C417.4 254.4 418.3 257.2 417.9 258.2C417.4 259.1 415.3 259.0 413.8 258.2C412.3 257.4 409.9 255.0 408.9 253.3C408.0 251.7 407.7 249.4 408.3 248.5ZM421.3 258.9C421.7 257.8 424.2 258.0 425.5 258.9C426.7 259.7 428.6 262.4 428.9 263.7C429.2 264.9 428.4 266.2 427.5 266.4C426.6 266.6 424.4 266.3 423.4 265.0C422.4 263.8 421.0 259.9 421.3 258.9Z"/>
<path fill="#ff1414" d="M476.3 285.7C476.8 284.9 478.5 283.8 479.3 284.2C480.2 284.6 481.4 286.6 481.6 288.0C481.9 289.4 481.5 291.7 480.9 292.6C480.2 293.5 478.6 293.9 477.8 293.4C477.0 292.9 476.2 290.8 476.0 289.6C475.7 288.3 475.7 286.6 476.3 285.7Z"/>
<path fill="#00f0ff" d="M290.2 170.1C291.5 170.4 293.5 172.4 295.1 174.3C296.6 176.3 297.4 179.6 299.3 182.0C301.3 184.4 303.7 186.8 307.0 188.9C310.3 190.9 316.3 192.3 319.2 194.2C322.2 196.1 323.9 198.4 324.6 200.3C325.2 202.2 324.4 204.7 323.0 205.7C321.6 206.7 318.8 206.5 316.2 206.5C313.5 206.5 310.0 205.3 307.0 205.7C303.9 206.1 300.6 208.5 297.8 208.7C295.0 209.0 292.7 208.4 290.2 207.2C287.6 206.1 284.8 203.8 282.5 201.9C280.2 200.0 278.3 197.7 276.4 195.7C274.5 193.8 271.9 192.3 271.1 190.4C270.2 188.5 270.2 185.9 271.1 184.3C271.9 182.6 274.4 181.7 276.4 180.5C278.4 179.2 281.5 178.0 283.3 176.6C285.1 175.2 286.0 173.1 287.1 172.0C288.3 171.0 288.8 169.7 290.2 170.1ZM312.3 156.0C313.4 155.6 315.3 156.4 316.9 157.5C318.6 158.7 320.1 161.1 322.3 162.9C324.4 164.7 327.4 166.3 329.9 168.2C332.5 170.1 335.8 172.0 337.6 174.3C339.4 176.6 340.1 179.4 340.6 182.0C341.1 184.5 341.6 188.0 340.6 189.6C339.6 191.3 336.3 192.2 334.5 191.9C332.7 191.7 331.3 190.3 329.9 188.1C328.5 185.9 327.6 181.6 326.1 178.9C324.6 176.3 322.8 174.2 320.7 172.0C318.7 169.9 315.5 168.0 313.9 165.9C312.2 163.9 311.1 161.5 310.8 159.8C310.6 158.2 311.3 156.4 312.3 156.0ZM348.1 126.9C350.9 125.4 362.6 124.9 365.6 126.9C368.7 129.0 365.8 135.9 366.4 139.2C367.0 142.5 367.9 144.0 369.5 146.8C371.0 149.6 373.5 153.3 375.6 156.0C377.6 158.7 379.8 160.6 381.7 162.9C383.6 165.2 385.9 167.3 387.0 169.8C388.2 172.2 388.8 175.6 388.6 177.4C388.3 179.2 387.3 180.2 385.5 180.5C383.7 180.7 380.0 179.9 377.9 178.9C375.7 177.9 373.9 176.4 372.5 174.3C371.1 172.3 370.2 169.0 369.5 166.7C368.7 164.4 369.0 162.9 367.9 160.6C366.9 158.3 365.1 155.2 363.3 152.9C361.6 150.6 359.3 148.9 357.2 146.8C355.2 144.8 352.6 142.5 351.1 140.7C349.6 138.9 348.9 138.4 348.4 136.1C347.9 133.8 345.2 128.5 348.1 126.9ZM341.9 145.3C342.8 142.9 346.1 144.8 347.3 146.1C348.4 147.3 348.8 150.6 348.8 152.9C348.8 155.2 348.4 158.5 347.3 159.8C346.1 161.1 342.8 163.0 341.9 160.6C341.0 158.2 341.0 147.7 341.9 145.3ZM354.5 169.0C355.3 168.2 357.2 167.6 358.8 168.2C360.4 168.9 362.6 171.0 364.1 172.8C365.6 174.6 367.6 177.1 367.9 178.9C368.3 180.7 367.4 182.8 366.4 183.5C365.4 184.2 363.5 184.1 361.8 183.2C360.2 182.3 357.8 179.9 356.5 178.2C355.1 176.4 354.2 174.3 353.9 172.8C353.5 171.3 353.7 169.8 354.5 169.0ZM377.9 128.5C378.9 127.2 383.6 127.2 384.8 128.5C386.0 129.7 385.6 134.5 385.1 136.1C384.6 137.8 382.8 138.4 381.7 138.4C380.6 138.4 379.3 137.8 378.6 136.1C378.0 134.5 376.9 129.7 377.9 128.5ZM388.6 147.6C389.1 146.8 390.7 151.3 392.4 152.9C394.1 154.6 396.7 155.0 398.5 157.5C400.3 160.1 401.8 164.4 403.1 168.2C404.4 172.0 405.4 176.6 406.2 180.5C406.9 184.3 407.9 189.1 407.7 191.2C407.4 193.2 405.9 193.2 404.6 192.7C403.4 192.2 401.6 190.7 400.0 188.1C398.5 185.6 396.9 180.7 395.5 177.4C394.1 174.1 392.7 171.5 391.6 168.2C390.6 164.9 389.9 161.0 389.3 157.5C388.8 154.1 388.1 148.3 388.6 147.6ZM406.2 156.0C406.8 155.4 408.7 156.2 410.0 158.3C411.3 160.3 412.4 164.5 413.8 168.2C415.2 171.9 417.1 176.6 418.4 180.5C419.7 184.3 421.1 188.9 421.5 191.2C421.8 193.5 421.5 194.5 420.7 194.2C419.9 194.0 418.3 192.2 416.9 189.6C415.5 187.1 413.7 182.2 412.3 178.9C410.9 175.6 409.5 172.6 408.5 169.8C407.4 167.0 406.5 164.4 406.2 162.1C405.8 159.8 405.5 156.6 406.2 156.0ZM416.1 152.9C416.6 151.9 418.8 152.9 419.9 154.5C421.1 156.0 422.6 159.9 423.0 162.1C423.4 164.3 422.9 166.7 422.2 167.5C421.6 168.2 420.1 167.8 419.2 166.7C418.3 165.6 417.4 162.9 416.9 160.6C416.4 158.3 415.6 154.0 416.1 152.9ZM424.5 151.4C425.1 150.6 426.0 155.2 430.6 156.0C435.2 156.8 448.5 153.4 452.0 156.0C455.6 158.5 454.1 168.7 452.0 171.3C450.0 173.8 442.6 171.8 439.8 171.3C437.0 170.8 436.7 169.2 435.2 168.2C433.7 167.2 432.0 166.4 430.6 165.2C429.2 163.9 427.8 162.9 426.8 160.6C425.8 158.3 423.9 152.2 424.5 151.4ZM393.9 221.7C395.1 221.0 399.5 220.5 401.6 221.0C403.6 221.5 404.9 222.1 406.2 224.8C407.4 227.5 410.7 235.0 409.2 237.0C407.7 239.1 399.4 238.9 397.0 237.0C394.6 235.1 395.2 228.1 394.7 225.6C394.2 223.0 392.8 222.5 393.9 221.7ZM421.9 151.4C424.0 150.1 430.4 155.1 434.2 156.0C438.0 156.9 441.3 156.2 444.9 156.8C448.4 157.3 452.3 157.7 455.6 159.1C458.9 160.5 463.5 162.9 464.8 165.2C466.0 167.5 464.8 171.0 463.2 172.8C461.7 174.6 458.1 175.9 455.6 175.9C453.0 175.9 451.0 173.8 447.9 172.8C444.9 171.8 440.3 170.8 437.2 169.8C434.2 168.7 432.1 167.7 429.6 166.7C427.0 165.7 423.2 166.2 421.9 163.6C420.7 161.1 419.9 152.7 421.9 151.4ZM475.5 150.6C476.6 149.6 481.1 149.8 482.3 150.6C483.6 151.5 483.6 154.5 483.1 156.0C482.6 157.5 480.6 159.7 479.3 159.8C478.0 159.9 476.1 158.3 475.5 156.8C474.8 155.2 474.3 151.7 475.5 150.6ZM515.2 145.3C515.9 143.3 517.5 142.0 518.3 139.2C519.0 136.4 519.0 130.3 519.8 128.5C520.6 126.7 522.6 126.2 522.9 128.5C523.1 130.8 522.3 138.4 521.3 142.2C520.3 146.1 517.9 149.9 516.7 151.4C515.6 152.9 514.7 152.4 514.4 151.4C514.2 150.4 514.6 147.3 515.2 145.3ZM498.4 204.9C499.3 203.4 502.0 201.6 503.0 201.9C504.0 202.1 504.9 204.7 504.5 206.5C504.1 208.2 501.8 211.8 500.7 212.6C499.5 213.3 498.0 212.3 497.6 211.0C497.2 209.8 497.5 206.5 498.4 204.9ZM508.3 209.5C508.8 208.2 511.4 207.5 512.2 208.0C512.9 208.5 513.4 211.3 512.9 212.6C512.4 213.8 509.9 216.1 509.1 215.6C508.3 215.1 507.8 210.8 508.3 209.5ZM516.7 221.7C518.8 219.2 529.5 211.5 532.0 212.6C534.6 213.6 534.1 225.3 532.0 227.9C530.0 230.4 522.3 228.9 519.8 227.9C517.3 226.8 514.7 224.3 516.7 221.7ZM485.4 220.2C486.2 218.9 488.1 217.4 488.5 218.7C488.8 220.0 488.2 225.8 487.7 227.9C487.2 229.9 486.0 231.2 485.4 230.9C484.8 230.7 483.9 228.1 483.9 226.3C483.9 224.5 484.6 221.5 485.4 220.2ZM511.9 139.2C513.7 136.1 519.3 137.6 522.6 137.6C526.0 137.6 530.5 137.1 531.8 139.2C533.1 141.2 531.6 146.8 530.3 149.9C529.0 152.9 527.2 156.5 524.2 157.5C521.1 158.5 514.0 159.1 511.9 156.0C509.9 152.9 510.2 142.2 511.9 139.2ZM568.5 166.7C568.3 165.3 568.9 161.6 570.0 159.1C571.2 156.5 573.7 153.3 575.4 151.4C577.1 149.5 579.1 147.3 580.0 147.6C580.9 147.8 581.4 150.8 580.7 152.9C580.1 155.1 577.7 158.2 576.2 160.6C574.6 163.0 572.8 166.4 571.6 167.5C570.3 168.5 568.8 168.1 568.5 166.7ZM586.9 127.7C587.8 126.2 593.4 126.3 594.5 127.7C595.7 129.1 594.6 134.6 593.7 136.1C592.9 137.6 590.3 138.3 589.2 136.9C588.0 135.5 586.0 129.2 586.9 127.7ZM603.7 126.9C606.2 124.9 617.4 124.6 619.0 126.9C620.5 129.2 614.9 137.8 612.9 140.7C610.8 143.6 608.3 144.8 606.7 144.5C605.2 144.3 604.2 142.1 603.7 139.2C603.2 136.2 601.1 129.0 603.7 126.9ZM542.9 203.6C545.0 200.6 551.5 195.6 554.4 194.5C557.2 193.3 559.3 194.9 560.1 196.8C560.9 198.7 560.3 202.9 559.0 205.9C557.6 209.0 554.0 212.0 552.1 215.1C550.2 218.2 549.4 220.8 547.5 224.3C545.6 227.7 542.9 231.9 540.6 235.7C538.3 239.5 536.0 243.7 533.8 247.2C531.5 250.6 529.4 254.1 526.9 256.4C524.4 258.6 520.2 261.7 518.9 260.9C517.5 260.2 517.1 255.6 518.9 251.8C520.6 247.9 525.9 242.6 529.2 238.0C532.4 233.4 536.2 228.5 538.3 224.3C540.4 220.1 541.0 216.2 541.8 212.8C542.5 209.4 540.8 206.7 542.9 203.6ZM559.0 208.2C559.5 204.0 560.9 199.8 563.5 196.8C566.2 193.7 571.6 191.4 575.0 189.9C578.4 188.4 582.3 186.4 584.2 187.6C586.1 188.7 586.9 192.6 586.5 196.8C586.1 201.0 583.8 208.2 581.9 212.8C580.0 217.4 577.7 221.6 575.0 224.3C572.3 226.9 568.3 229.2 565.8 228.8C563.4 228.5 561.3 225.4 560.1 222.0C559.0 218.5 558.4 212.4 559.0 208.2ZM575.1 229.5C575.9 227.2 579.7 222.2 582.0 217.9C584.4 213.7 586.3 207.3 589.0 204.0C591.7 200.7 595.2 198.6 598.3 198.2C601.4 197.8 605.7 199.5 607.6 201.7C609.5 203.8 608.0 207.8 609.9 210.9C611.9 214.0 617.9 217.1 619.2 220.2C620.6 223.3 619.2 226.8 618.1 229.5C616.9 232.2 614.4 236.1 612.2 236.5C610.1 236.9 608.0 233.4 605.3 231.9C602.6 230.3 599.5 228.0 596.0 227.2C592.5 226.4 587.5 226.4 584.4 227.2C581.3 228.0 579.0 231.5 577.4 231.9C575.9 232.2 574.3 231.9 575.1 229.5ZM518.1 217.2C519.8 214.9 522.5 213.0 524.2 212.6C525.8 212.2 528.0 213.1 528.0 214.9C528.0 216.6 525.8 221.1 524.2 223.3C522.5 225.4 519.8 227.3 518.1 227.9C516.3 228.4 513.5 228.1 513.5 226.3C513.5 224.5 516.3 219.4 518.1 217.2ZM534.9 206.5C535.8 204.7 538.3 202.1 539.5 201.9C540.6 201.6 542.0 203.1 541.8 204.9C541.5 206.7 539.2 211.3 537.9 212.6C536.7 213.8 534.6 213.6 534.1 212.6C533.6 211.5 534.0 208.2 534.9 206.5ZM345.2 231.5C348.1 230.8 359.2 230.3 362.0 231.5C364.8 232.6 364.3 237.3 362.0 238.3C359.7 239.4 351.1 238.1 348.3 237.6C345.4 237.1 345.4 236.3 344.9 235.3C344.4 234.3 342.4 232.1 345.2 231.5ZM277.9 272.8C280.1 271.9 285.1 270.8 288.6 271.2C292.2 271.6 296.0 273.6 299.3 275.0C302.7 276.4 305.5 278.6 308.5 279.6C311.6 280.7 315.1 280.4 317.7 281.2C320.2 281.9 322.0 284.2 323.8 284.2C325.6 284.2 327.4 283.5 328.4 281.2C329.4 278.9 329.2 272.6 329.9 270.5C330.7 268.3 331.2 267.7 333.0 268.2C334.8 268.7 338.1 271.4 340.6 273.5C343.2 275.7 346.2 278.6 348.3 281.2C350.3 283.7 351.7 285.7 352.9 288.8C354.0 291.9 354.4 295.7 355.2 299.5C355.9 303.3 357.0 308.1 357.4 311.7C357.9 315.4 360.9 320.7 357.8 321.2C354.6 321.7 299.3 322.0 295.1 321.2C290.8 320.4 293.3 312.3 291.7 308.7C290.1 305.1 287.1 301.8 285.6 299.5C284.1 297.2 283.5 294.4 282.5 294.9C281.5 295.4 280.9 301.5 279.5 302.6C278.1 303.6 275.2 302.6 274.1 301.0C273.0 299.5 273.2 296.5 273.0 293.4C272.9 290.3 272.9 285.5 273.3 282.7C273.8 279.9 274.9 278.2 275.6 276.6C276.4 274.9 275.8 273.6 277.9 272.8ZM255.0 229.9L260.4 229.9L260.4 234.5L255.0 234.5ZM360.3 265.9C361.6 264.2 364.6 263.6 367.9 263.6C371.2 263.6 376.3 265.0 380.2 265.9C384.0 266.8 386.5 268.7 390.9 268.9C395.2 269.2 402.6 267.1 406.2 267.4C409.7 267.7 409.2 269.4 412.3 270.5C415.3 271.5 420.4 272.5 424.5 273.5C428.6 274.5 432.2 276.3 436.7 276.6C441.3 276.8 449.5 270.7 452.0 275.0C454.6 279.4 454.6 298.0 452.0 302.6C449.5 307.2 441.8 302.1 436.7 302.6C431.6 303.1 426.0 304.9 421.5 305.6C416.9 306.4 413.0 306.4 409.2 307.2C405.4 307.9 401.3 309.4 398.5 310.2C395.7 311.0 394.4 312.0 392.4 311.7C390.4 311.5 388.3 309.7 386.3 308.7C384.2 307.7 382.5 307.2 380.2 305.6C377.9 304.1 375.1 301.8 372.5 299.5C370.0 297.2 366.9 294.4 364.9 291.9C362.8 289.3 361.1 287.3 360.3 284.2C359.5 281.2 360.0 276.6 360.0 273.5C360.0 270.5 359.0 267.5 360.3 265.9ZM341.9 278.1C342.2 275.8 346.8 279.4 348.1 281.2C349.3 282.9 349.1 285.7 349.6 288.8C350.1 291.9 350.1 296.5 351.1 299.5C352.1 302.6 354.4 304.6 355.7 307.2C357.0 309.7 358.8 311.5 358.8 314.8C358.8 318.1 358.5 325.0 355.7 327.0C352.9 329.1 343.2 331.4 341.9 327.0C340.7 322.6 341.6 280.4 341.9 278.1ZM343.5 233.0C344.7 232.1 348.3 231.9 351.1 231.5C353.9 231.1 358.4 230.2 360.3 230.7C362.2 231.2 362.6 233.1 362.6 234.5C362.6 235.9 361.9 238.6 360.3 239.1C358.6 239.6 355.4 238.0 352.6 237.6C349.8 237.2 345.0 237.6 343.5 236.8C341.9 236.1 342.2 233.9 343.5 233.0ZM374.8 233.0C375.1 232.6 376.3 233.0 377.1 233.8C377.9 234.5 379.3 236.8 379.4 237.6C379.5 238.3 378.5 238.6 377.9 238.3C377.2 238.1 376.1 236.9 375.6 236.1C375.1 235.2 374.6 233.4 374.8 233.0ZM431.9 272.8C434.0 267.5 440.1 271.2 444.2 271.2C448.3 271.2 453.3 272.1 456.4 272.8C459.5 273.4 462.1 272.9 462.5 275.0C463.0 277.2 463.8 303.3 463.3 305.6C462.8 308.0 459.6 303.6 456.4 303.3C453.2 303.1 448.3 304.2 444.2 304.1C440.1 304.0 434.0 307.8 431.9 302.6C429.9 297.3 429.9 278.0 431.9 272.8ZM475.5 308.7C477.8 305.5 483.8 307.9 488.5 307.9C493.2 308.0 499.5 308.6 503.8 309.0C508.1 309.4 511.5 309.5 514.5 310.2C517.6 310.9 519.9 311.5 522.2 313.3C524.4 315.1 527.3 318.6 528.3 320.9C529.3 323.2 530.3 326.8 528.3 327.0C526.2 327.3 480.5 329.0 474.8 327.0C469.0 325.0 473.2 311.9 475.5 308.7ZM520.6 244.5C521.4 242.2 525.7 241.2 526.7 242.9C527.8 244.7 527.5 252.9 526.7 255.2C526.0 257.5 523.2 258.5 522.2 256.7C521.1 254.9 519.9 246.8 520.6 244.5ZM530.6 255.2C532.3 253.1 540.1 250.5 542.0 252.1C543.9 253.8 543.8 263.1 542.0 265.1C540.2 267.1 533.2 266.0 531.3 264.3C529.4 262.7 528.8 257.2 530.6 255.2ZM517.6 221.5C518.8 220.5 525.2 219.5 526.7 220.0C528.3 220.5 528.0 223.6 526.7 224.6C525.5 225.6 520.6 226.6 519.1 226.1C517.6 225.6 516.3 222.5 517.6 221.5ZM574.3 229.2C574.9 226.8 575.1 220.3 580.5 218.5C585.8 216.7 600.1 218.0 606.5 218.5C612.8 219.0 616.6 219.7 618.7 221.5C620.7 223.3 619.4 226.6 618.7 229.2C617.9 231.7 615.6 235.3 614.1 236.8C612.6 238.3 610.8 239.1 609.5 238.3C608.2 237.6 607.7 234.3 606.5 232.2C605.2 230.2 603.9 227.1 601.9 226.1C599.8 225.1 597.0 225.6 594.2 226.1C591.4 226.6 587.8 228.0 585.0 229.2C582.2 230.3 579.2 233.0 577.4 233.0C575.6 233.0 573.8 231.6 574.3 229.2ZM539.2 218.5C542.0 215.9 545.5 216.7 545.3 218.5C545.0 220.3 540.4 225.4 537.6 229.2C534.8 233.0 530.0 240.6 528.5 241.4C526.9 242.2 526.7 237.6 528.5 233.8C530.3 229.9 536.4 221.0 539.2 218.5ZM528.5 256.7C530.0 254.7 534.3 253.6 537.6 252.1C541.0 250.6 545.0 249.1 548.3 247.5C551.7 246.0 555.2 243.2 557.5 242.9C559.8 242.7 561.6 244.5 562.1 246.0C562.6 247.5 562.1 250.1 560.6 252.1C559.1 254.1 555.5 256.2 552.9 258.2C550.4 260.3 547.8 263.1 545.3 264.3C542.7 265.6 540.4 265.9 537.6 265.9C534.8 265.9 530.0 265.9 528.5 264.3C526.9 262.8 526.9 258.7 528.5 256.7ZM564.9 249.8C565.4 248.9 567.8 248.5 569.0 248.7C570.2 249.0 571.9 250.3 572.0 251.3C572.2 252.4 570.8 254.4 569.8 254.9C568.7 255.4 566.7 255.2 565.9 254.4C565.1 253.6 564.4 250.8 564.9 249.8ZM634.0 242.9C634.6 241.5 637.0 238.9 640.1 236.8C643.1 234.8 650.3 229.7 652.3 230.7C654.4 231.7 654.1 240.5 652.3 242.9C650.5 245.4 644.3 244.8 641.6 245.2C638.9 245.6 637.5 245.6 636.3 245.2C635.0 244.8 633.3 244.3 634.0 242.9ZM294.2 307.3C297.3 306.9 354.1 306.9 357.2 307.3C360.3 307.8 359.2 314.4 358.5 316.6C357.9 318.8 355.2 318.8 353.2 320.6C351.2 322.4 349.3 325.8 346.6 327.3C343.9 328.7 340.6 329.4 337.3 329.2C334.0 329.1 329.6 327.6 326.7 326.6C323.8 325.6 322.3 325.0 320.0 323.3C317.8 321.5 315.8 316.9 313.4 316.0C311.0 315.1 308.3 317.9 305.4 318.0C302.6 318.1 298.0 318.4 296.2 316.6C294.3 314.9 291.0 307.8 294.2 307.3ZM290.2 321.3C290.5 320.6 292.3 320.4 292.8 321.3C293.4 322.2 293.8 325.9 293.5 326.6C293.2 327.3 291.4 326.2 290.8 325.3C290.3 324.4 289.8 321.9 290.2 321.3ZM379.6 308.7C381.2 308.1 389.8 308.0 391.5 308.7C393.3 309.3 391.8 312.1 390.2 312.7C388.7 313.2 384.0 312.7 382.3 312.0C380.5 311.3 378.1 309.2 379.6 308.7ZM395.5 397.6C393.7 395.0 395.1 385.0 396.2 381.7C397.3 378.4 400.1 379.7 402.2 377.7C404.3 375.7 406.8 371.3 408.8 369.7C410.8 368.2 413.5 367.5 414.1 368.4C414.8 369.3 413.7 372.6 412.8 375.0C411.9 377.5 409.7 379.3 408.8 383.0C407.9 386.8 409.7 395.2 407.5 397.6C405.3 400.0 397.4 400.3 395.5 397.6ZM415.4 397.6C412.8 395.6 416.6 388.1 418.1 385.7C419.6 383.2 422.5 383.2 424.7 383.0C426.9 382.8 429.8 381.9 431.4 384.3C432.9 386.8 436.7 395.4 434.0 397.6C431.4 399.8 418.1 399.6 415.4 397.6ZM436.0 349.8C436.8 347.9 439.2 346.5 440.7 346.5C442.1 346.5 443.7 348.2 444.6 349.8C445.6 351.5 446.6 354.5 446.6 356.5C446.6 358.5 445.9 360.7 444.6 361.8C443.4 362.9 440.8 363.8 439.3 363.1C437.9 362.4 436.6 360.0 436.0 357.8C435.5 355.6 435.2 351.7 436.0 349.8ZM447.3 340.5C448.5 337.9 450.8 335.9 452.6 333.9C454.4 331.9 456.2 330.4 457.9 328.6C459.7 326.8 461.7 325.3 463.2 323.3C464.8 321.3 465.9 317.1 467.2 316.6C468.5 316.2 470.3 317.3 471.2 320.6C472.1 323.9 472.7 331.7 472.5 336.5C472.3 341.4 471.0 346.9 469.9 349.8C468.8 352.7 467.9 354.0 465.9 353.8C463.9 353.6 460.4 349.2 457.9 348.5C455.5 347.8 453.1 348.7 451.3 349.8C449.5 350.9 448.3 355.1 447.3 355.1C446.3 355.1 445.3 352.3 445.3 349.8C445.3 347.4 446.1 343.2 447.3 340.5ZM473.9 325.9C475.8 325.3 484.9 327.3 487.1 328.6C489.3 329.9 489.1 333.2 487.1 333.9C485.1 334.6 477.4 333.9 475.2 332.6C473.0 331.2 471.9 326.6 473.9 325.9ZM469.9 353.8C470.8 351.8 472.3 356.7 475.2 357.8C478.1 358.9 485.1 356.0 487.1 360.4C489.1 364.9 488.7 380.1 487.1 384.3C485.6 388.5 480.5 386.1 477.8 385.7C475.2 385.2 472.5 384.3 471.2 381.7C469.9 379.0 470.1 374.4 469.9 369.7C469.7 365.1 469.0 355.8 469.9 353.8ZM439.3 397.6C435.8 395.6 444.2 387.9 447.3 385.7C450.4 383.5 454.6 384.3 457.9 384.3C461.2 384.3 465.4 383.5 467.2 385.7C469.0 387.9 473.2 395.6 468.5 397.6C463.9 399.6 442.9 399.6 439.3 397.6ZM472.3 307.3C479.0 305.0 529.1 306.4 533.4 307.3C537.7 308.3 534.5 316.9 534.1 320.6C533.6 324.4 532.2 326.8 530.8 329.9C529.3 333.0 527.4 336.1 525.4 339.2C523.5 342.3 520.8 346.5 518.8 348.5C516.8 350.5 514.8 352.0 513.5 351.2C512.2 350.3 512.2 345.8 510.8 343.2C509.5 340.5 507.1 337.7 505.5 335.2C504.0 332.8 502.9 329.0 501.5 328.6C500.2 328.1 499.1 331.7 497.6 332.6C496.0 333.5 494.0 334.3 492.3 333.9C490.5 333.5 488.9 330.4 486.9 329.9C485.0 329.5 482.7 331.5 480.3 331.2C477.9 331.0 473.7 332.6 472.3 328.6C471.0 324.6 465.7 309.7 472.3 307.3ZM542.7 329.9C544.8 327.8 550.4 325.0 554.6 325.3C558.9 325.5 563.5 329.6 567.9 331.2C572.3 332.9 576.3 334.3 581.2 335.2C586.1 336.1 594.5 332.8 597.1 336.5C599.8 340.3 599.8 354.7 597.1 357.8C594.5 360.9 586.1 355.2 581.2 355.1C576.3 355.0 572.3 357.6 567.9 357.1C563.5 356.7 558.4 354.1 554.6 352.5C550.9 350.8 547.5 349.6 545.4 347.2C543.3 344.7 542.5 340.8 542.0 337.9C541.6 335.0 540.6 332.0 542.7 329.9ZM496.2 349.8C497.3 345.8 499.0 339.6 500.2 337.9C501.4 336.1 502.9 337.2 503.5 339.2C504.2 341.2 503.7 346.7 504.2 349.8C504.8 352.9 505.3 353.8 506.9 357.8C508.4 361.8 512.8 370.6 513.5 373.7C514.2 376.8 511.9 376.6 510.8 376.4C509.7 376.2 508.4 372.4 506.9 372.4C505.3 372.4 503.5 376.2 501.5 376.4C499.6 376.6 496.9 373.7 494.9 373.7C492.9 373.7 491.6 374.6 489.6 376.4C487.6 378.1 485.0 383.2 483.0 384.3C481.0 385.4 479.2 384.3 477.7 383.0C476.1 381.7 474.3 380.1 473.7 376.4C473.0 372.6 472.8 362.7 473.7 360.4C474.6 358.2 477.2 361.3 479.0 363.1C480.8 364.9 482.7 370.6 484.3 371.1C485.8 371.5 486.7 367.3 488.3 365.8C489.8 364.2 492.3 364.4 493.6 361.8C494.9 359.1 495.1 353.8 496.2 349.8ZM573.7 334.0C575.2 331.0 580.0 335.6 582.8 336.0C585.6 336.4 588.2 336.9 590.6 336.6C593.0 336.4 594.7 334.6 597.1 334.7C599.5 334.8 603.4 334.9 604.9 337.3C606.4 339.7 606.2 346.2 606.2 349.0C606.2 351.8 606.4 352.9 604.9 354.2C603.4 355.5 599.5 356.0 597.1 356.8C594.7 357.6 593.0 359.0 590.6 358.7C588.2 358.5 585.6 356.3 582.8 355.5C580.0 354.7 575.2 357.8 573.7 354.2C572.2 350.6 572.2 337.1 573.7 334.0ZM609.1 335.3C609.6 334.6 611.8 333.7 612.7 334.0C613.6 334.4 614.8 336.4 614.6 337.3C614.5 338.2 612.9 339.5 612.0 339.6C611.2 339.8 609.9 339.1 609.4 338.3C608.9 337.6 608.5 336.1 609.1 335.3ZM395.9 221.0C397.5 219.7 402.5 220.3 405.5 221.7C408.5 223.1 411.2 226.6 413.8 229.3C416.3 231.9 418.8 234.8 420.6 237.5C422.5 240.3 424.5 243.9 424.8 245.8C425.0 247.6 423.9 249.0 422.0 248.5C420.2 248.1 416.5 245.1 413.8 243.0C411.0 241.0 408.5 238.4 405.5 236.1C402.5 233.9 397.5 231.8 395.9 229.3C394.3 226.7 394.3 222.3 395.9 221.0ZM429.6 229.3C429.9 228.5 431.8 227.9 433.0 228.6C434.3 229.3 436.4 231.9 437.2 233.4C438.0 234.9 438.3 236.9 437.8 237.5C437.4 238.1 435.5 237.5 434.4 236.8C433.3 236.1 431.8 234.7 431.0 233.4C430.2 232.1 429.2 230.1 429.6 229.3ZM445.4 236.1C445.5 235.2 446.6 235.0 447.5 236.1C448.4 237.3 450.1 241.0 450.9 243.0C451.7 245.1 452.5 247.8 452.3 248.5C452.1 249.2 450.5 248.3 449.5 247.2C448.6 246.0 447.5 243.5 446.8 241.6C446.1 239.8 445.3 237.1 445.4 236.1ZM471.6 265.0C472.0 263.4 475.2 262.3 477.1 262.3C478.9 262.3 481.9 263.7 482.6 265.0C483.3 266.4 482.6 269.4 481.2 270.5C479.8 271.7 475.9 272.8 474.3 271.9C472.7 271.0 471.1 266.6 471.6 265.0ZM484.6 226.5C485.1 224.0 486.7 219.4 487.4 218.3C488.1 217.1 488.9 217.8 488.8 219.6C488.6 221.5 487.4 227.0 486.7 229.3C486.0 231.6 485.0 233.9 484.6 233.4C484.3 232.9 484.2 229.0 484.6 226.5ZM499.1 269.2C499.3 266.9 500.2 262.7 501.8 259.5C503.4 256.3 506.4 252.7 508.7 249.9C511.0 247.2 514.0 243.5 515.6 243.0C517.2 242.6 518.3 244.9 518.3 247.2C518.3 249.4 517.0 253.8 515.6 256.8C514.2 259.8 511.9 262.5 510.1 265.0C508.3 267.6 506.2 270.5 504.6 271.9C503.0 273.3 501.4 273.8 500.5 273.3C499.5 272.8 498.8 271.5 499.1 269.2ZM493.6 259.5C493.8 258.2 495.6 256.6 496.3 256.8C497.0 257.0 497.9 259.5 497.7 260.9C497.5 262.3 495.6 265.3 494.9 265.0C494.3 264.8 493.3 260.9 493.6 259.5Z"/>
<path fill="#0014ff" d="M304.8 196.8C304.8 198.2 304.2 200.0 303.2 200.9C302.3 201.9 300.6 202.6 299.3 202.6C298.0 202.6 296.4 201.9 295.5 200.9C294.5 200.0 293.8 198.2 293.8 196.8C293.8 195.5 294.5 193.7 295.5 192.7C296.4 191.7 298.0 191.0 299.3 191.0C300.6 191.0 302.3 191.7 303.2 192.7C304.2 193.7 304.8 195.5 304.8 196.8ZM328.4 172.5C328.8 171.9 330.1 171.7 331.1 172.8C332.2 173.9 333.7 177.0 334.5 178.9C335.3 180.8 336.1 183.1 336.0 184.3C336.0 185.4 335.0 186.1 334.2 185.8C333.4 185.6 332.1 184.3 331.1 182.8C330.2 181.2 329.2 178.3 328.7 176.6C328.2 174.9 328.0 173.1 328.4 172.5ZM350.4 128.2C351.8 127.0 357.9 126.8 359.5 128.2C361.2 129.5 359.7 134.0 360.3 136.1C360.9 138.2 362.9 139.2 363.3 140.7C363.8 142.2 363.7 144.9 363.0 145.3C362.4 145.7 360.9 144.1 359.5 143.0C358.2 141.9 356.3 139.7 354.9 138.4C353.5 137.1 351.9 137.1 351.1 135.4C350.4 133.6 349.0 129.4 350.4 128.2ZM371.8 162.9C372.2 162.1 373.5 163.5 374.8 164.4C376.1 165.3 377.9 167.5 379.4 168.2C380.9 169.0 382.8 168.0 384.0 169.0C385.2 170.0 386.5 172.9 386.6 174.3C386.7 175.8 386.0 177.2 384.8 177.7C383.6 178.2 381.1 178.0 379.4 177.4C377.7 176.8 376.0 175.7 374.8 174.3C373.6 172.9 372.7 170.9 372.2 169.0C371.7 167.1 371.3 163.6 371.8 162.9ZM357.2 174.3C357.5 173.7 359.2 173.7 360.3 174.3C361.4 175.0 363.0 176.9 363.7 178.2C364.3 179.4 364.5 181.2 364.1 181.7C363.8 182.2 362.5 181.8 361.5 181.2C360.6 180.6 359.2 179.3 358.5 178.2C357.7 177.0 356.9 175.0 357.2 174.3ZM392.4 157.5C393.3 156.5 396.2 157.0 397.8 159.1C399.3 161.1 400.4 165.9 401.6 169.8C402.7 173.6 404.3 179.2 404.6 182.0C405.0 184.8 404.6 186.6 403.9 186.6C403.1 186.6 401.4 184.3 400.0 182.0C398.6 179.7 396.7 175.6 395.5 172.8C394.2 170.0 392.9 167.7 392.4 165.2C391.9 162.6 391.5 158.5 392.4 157.5ZM408.9 161.3C409.0 160.1 410.1 160.2 411.1 162.1C412.0 164.0 413.5 169.5 414.6 172.8C415.7 176.1 416.7 179.1 417.6 182.0C418.5 184.9 419.8 189.1 419.9 190.4C420.0 191.7 419.0 191.3 418.1 189.6C417.2 188.0 415.8 183.8 414.6 180.5C413.3 177.1 411.7 172.9 410.7 169.8C409.8 166.6 408.9 162.6 408.9 161.3ZM418.1 158.3C418.3 157.5 419.7 157.5 420.2 158.3C420.8 159.1 421.4 161.6 421.5 162.9C421.5 164.1 421.1 165.9 420.7 165.9C420.2 165.9 419.1 164.1 418.7 162.9C418.3 161.6 417.8 159.1 418.1 158.3ZM428.3 159.8C428.5 158.9 429.9 158.5 430.6 159.1C431.4 159.6 432.7 161.6 432.9 162.9C433.2 164.1 432.7 166.4 432.2 166.7C431.6 167.0 430.5 165.6 429.9 164.4C429.2 163.3 428.2 160.7 428.3 159.8ZM435.5 158.3C436.2 156.9 438.8 159.6 440.6 159.8C442.3 160.0 445.0 158.2 445.9 159.4C446.8 160.5 446.8 165.0 445.9 166.7C445.0 168.4 442.1 169.5 440.6 169.8C439.0 170.0 437.6 170.1 436.7 168.2C435.9 166.3 434.9 159.7 435.5 158.3ZM403.1 224.8C403.7 222.6 406.3 222.0 407.7 224.0C409.1 226.1 412.2 234.9 411.5 237.0C410.9 239.2 405.3 239.1 403.9 237.0C402.5 235.0 402.5 227.0 403.1 224.8ZM434.9 158.3L447.2 159.1L447.6 166.7L440.3 167.5L436.0 165.9ZM428.1 159.1L430.4 159.8L432.6 165.9L431.1 166.7ZM519.0 130.0L522.1 130.0L522.1 134.6L519.0 134.6ZM524.9 148.3C525.3 147.3 527.4 146.9 528.0 147.6C528.6 148.2 529.1 151.2 528.8 152.2C528.4 153.2 526.3 154.3 525.7 153.7C525.1 153.1 524.6 149.4 524.9 148.3ZM560.9 206.5C561.9 203.4 564.4 201.1 567.0 198.8C569.5 196.5 573.9 193.2 576.2 192.7C578.5 192.2 580.1 193.7 580.7 195.7C581.4 197.8 581.0 202.1 580.0 204.9C579.0 207.7 576.8 210.4 574.6 212.6C572.5 214.7 569.3 217.2 567.0 217.9C564.7 218.7 561.9 219.1 560.9 217.2C559.9 215.2 559.9 209.5 560.9 206.5ZM580.7 221.7C581.6 219.2 584.8 214.4 586.9 211.0C588.9 207.7 590.4 203.4 593.0 201.9C595.5 200.3 600.0 200.8 602.2 201.9C604.3 202.9 606.0 205.7 606.0 208.0C606.0 210.3 604.1 213.6 602.2 215.6C600.2 217.7 597.1 218.6 594.5 220.2C592.0 221.9 589.0 224.5 586.9 225.6C584.7 226.6 582.5 227.0 581.5 226.3C580.5 225.7 579.9 224.3 580.7 221.7ZM537.9 230.9C538.2 228.6 541.0 221.0 542.5 217.2C544.1 213.3 545.7 209.6 547.1 208.0C548.5 206.3 550.6 205.9 550.9 207.2C551.3 208.5 550.6 212.7 549.4 215.6C548.3 218.6 545.5 222.3 544.1 224.8C542.7 227.3 542.0 229.9 541.0 230.9C540.0 231.9 537.7 233.2 537.9 230.9ZM555.1 193.5C555.4 192.4 557.0 192.1 557.5 192.7C558.0 193.3 558.1 196.3 557.8 197.3C557.5 198.3 556.0 199.4 555.5 198.8C555.1 198.2 554.7 194.5 555.1 193.5ZM303.9 291.1C304.6 290.7 307.0 291.7 308.5 292.6C310.0 293.5 311.6 295.7 313.1 296.5C314.6 297.2 316.8 296.5 317.7 297.2C318.6 298.0 319.1 299.9 318.5 301.0C317.8 302.1 315.5 304.0 313.9 303.8C312.2 303.5 310.0 301.0 308.5 299.5C307.0 298.0 305.5 296.3 304.7 294.9C303.9 293.5 303.3 291.5 303.9 291.1ZM320.0 300.3L321.8 299.8L319.2 306.4L317.4 305.9ZM365.6 272.0C367.3 270.1 371.9 269.7 375.6 269.7C379.3 269.7 384.2 271.2 387.8 272.0C391.4 272.8 393.9 274.3 397.0 274.3C400.0 274.3 403.4 272.1 406.2 272.0C409.0 271.9 410.7 272.8 413.8 273.5C416.9 274.3 420.7 275.7 424.5 276.6C428.3 277.5 432.2 278.9 436.7 278.9C441.3 278.9 449.5 273.1 452.0 276.6C454.6 280.0 454.6 295.7 452.0 299.5C449.5 303.3 441.3 299.3 436.7 299.5C432.2 299.8 428.3 300.4 424.5 301.0C420.7 301.7 417.4 302.7 413.8 303.3C410.2 304.0 405.9 304.1 403.1 304.9C400.3 305.6 398.8 307.3 397.0 307.9C395.2 308.6 393.7 309.2 392.4 308.7C391.1 308.2 390.9 306.4 389.3 304.9C387.8 303.3 385.5 301.4 383.2 299.5C380.9 297.6 377.9 295.4 375.6 293.4C373.3 291.4 371.1 289.3 369.5 287.3C367.8 285.2 366.3 283.7 365.6 281.2C365.0 278.6 364.0 273.9 365.6 272.0ZM431.9 275.0C433.7 270.6 439.1 273.5 442.6 273.5C446.2 273.5 450.5 274.5 453.3 275.0C456.2 275.6 457.8 275.6 459.5 276.6C461.1 277.6 462.7 277.8 463.3 281.2C463.9 284.5 463.5 292.8 463.3 296.5C463.0 300.1 462.7 302.6 461.8 303.3C460.9 304.1 459.6 301.7 457.9 301.0C456.3 300.4 454.1 299.4 451.8 299.5C449.5 299.6 447.5 301.7 444.2 301.8C440.9 301.9 434.0 304.7 431.9 300.3C429.9 295.8 430.2 279.5 431.9 275.0ZM476.3 311.7C477.3 308.8 480.1 309.4 482.4 309.4C484.7 309.4 487.8 311.1 490.0 311.7C492.3 312.4 494.6 310.7 496.2 313.3C497.7 315.8 502.5 324.7 499.2 327.0C495.9 329.3 480.1 329.6 476.3 327.0C472.5 324.5 475.3 314.7 476.3 311.7ZM503.8 314.8C504.6 312.3 507.1 311.7 508.4 311.7C509.7 311.7 510.9 312.3 511.5 314.8C512.0 317.3 512.7 325.0 511.5 327.0C510.2 329.1 505.1 329.1 503.8 327.0C502.5 325.0 503.0 317.3 503.8 314.8ZM520.6 327.0C520.1 325.0 522.7 316.3 523.7 314.8C524.7 313.3 526.2 315.8 526.7 317.9C527.3 319.9 527.8 325.5 526.7 327.0C525.7 328.6 521.1 329.1 520.6 327.0ZM523.7 247.5C524.1 246.5 525.4 245.9 525.5 246.8C525.6 247.7 524.9 251.9 524.4 252.9C524.0 253.9 523.0 253.8 522.9 252.9C522.8 252.0 523.3 248.5 523.7 247.5ZM532.9 257.5C533.4 256.5 535.7 255.8 536.2 256.7C536.8 257.6 536.7 261.8 536.2 262.8C535.7 263.8 533.7 263.4 533.2 262.5C532.6 261.6 532.3 258.4 532.9 257.5ZM580.5 221.5C580.2 220.3 579.7 219.0 582.0 218.5C584.3 218.0 592.7 217.6 594.2 218.5C595.7 219.4 592.9 222.5 591.2 223.8C589.4 225.1 585.3 226.5 583.5 226.1C581.7 225.7 580.7 222.8 580.5 221.5ZM534.6 229.2C536.2 225.9 539.9 220.3 541.5 218.5C543.0 216.7 544.7 216.3 543.8 218.5C542.9 220.6 538.2 228.2 536.1 231.5C534.1 234.8 531.8 238.7 531.5 238.3C531.3 238.0 532.9 232.5 534.6 229.2ZM532.3 258.2C532.9 257.4 534.6 256.4 535.4 256.7C536.1 257.0 537.1 258.7 536.9 259.8C536.6 260.8 534.7 262.5 533.8 262.8C533.0 263.1 532.1 262.4 531.8 261.6C531.6 260.8 531.7 259.0 532.3 258.2ZM449.3 345.8C449.1 344.3 449.3 340.1 450.0 338.5C450.6 337.0 452.6 336.0 453.3 336.5C453.9 337.1 454.3 340.0 453.9 341.9C453.6 343.7 452.1 347.2 451.3 347.8C450.5 348.5 449.5 347.4 449.3 345.8ZM456.6 340.5C456.4 339.0 457.4 332.8 457.9 331.2C458.5 329.7 459.7 329.7 459.9 331.2C460.1 332.8 459.8 339.0 459.3 340.5C458.7 342.1 456.8 342.1 456.6 340.5ZM446.0 359.1C445.6 358.0 446.2 353.1 446.6 351.8C447.1 350.5 448.3 350.0 448.6 351.2C449.0 352.3 449.1 357.1 448.6 358.5C448.2 359.8 446.3 360.2 446.0 359.1ZM474.5 308.7C476.5 306.1 485.0 305.4 487.1 308.7C489.2 312.0 488.5 325.2 487.1 328.6C485.8 332.0 481.2 330.0 479.2 329.2C477.2 328.5 476.0 327.4 475.2 323.9C474.4 320.5 472.5 311.2 474.5 308.7ZM477.8 377.7C478.1 376.0 480.3 374.7 481.8 373.7C483.4 372.7 486.2 370.2 487.1 371.7C488.0 373.3 488.2 381.0 487.1 383.0C486.0 385.0 482.0 384.6 480.5 383.7C478.9 382.8 477.6 379.4 477.8 377.7ZM440.7 397.6C439.6 396.1 442.9 390.3 444.6 388.3C446.4 386.3 450.2 384.1 451.3 385.7C452.4 387.2 453.1 395.6 451.3 397.6C449.5 399.6 441.8 399.2 440.7 397.6ZM456.6 397.6C455.4 395.8 456.8 389.0 457.9 387.0C459.0 385.0 462.0 383.9 463.2 385.7C464.5 387.4 466.3 395.6 465.2 397.6C464.1 399.6 457.8 399.4 456.6 397.6ZM472.3 307.3C476.3 304.2 492.0 305.4 496.2 307.3C500.4 309.3 497.8 316.0 497.6 319.3C497.3 322.6 496.5 326.2 494.9 327.3C493.4 328.4 490.7 325.5 488.3 325.9C485.8 326.4 483.0 329.9 480.3 329.9C477.7 329.9 473.7 329.7 472.3 325.9C471.0 322.2 468.4 310.4 472.3 307.3ZM504.2 315.3C504.7 314.0 506.5 312.4 507.5 312.7C508.5 312.9 509.8 314.9 510.2 316.6C510.5 318.4 510.1 321.9 509.5 323.3C509.0 324.6 507.7 325.0 506.9 324.6C506.0 324.2 504.9 322.2 504.5 320.6C504.0 319.1 503.7 316.6 504.2 315.3ZM517.5 323.3C518.0 321.3 518.9 319.3 520.1 318.0C521.4 316.6 523.5 314.9 524.8 315.3C526.1 315.8 527.8 318.2 528.1 320.6C528.4 323.1 527.7 327.5 526.8 329.9C525.9 332.3 524.2 334.0 522.8 335.2C521.4 336.4 519.1 338.1 518.1 337.2C517.1 336.3 516.9 332.2 516.8 329.9C516.7 327.6 516.9 325.3 517.5 323.3ZM548.0 335.9C548.5 334.3 550.4 333.2 552.0 333.2C553.5 333.2 556.0 334.6 557.3 335.9C558.6 337.2 560.4 339.8 560.0 341.2C559.5 342.6 556.4 344.3 554.6 344.5C552.9 344.7 550.4 344.0 549.3 342.5C548.2 341.1 547.6 337.4 548.0 335.9ZM498.9 372.4C498.9 370.2 500.6 365.8 501.5 363.1C502.5 360.4 504.1 356.5 504.9 356.5C505.6 356.5 506.2 360.2 506.2 363.1C506.2 366.0 505.6 371.5 504.9 373.7C504.1 375.9 502.5 376.6 501.5 376.4C500.6 376.2 498.9 374.6 498.9 372.4ZM488.9 369.7C489.2 368.3 490.2 365.1 490.9 365.1C491.7 365.1 493.3 368.3 493.6 369.7C493.9 371.2 493.6 373.1 492.9 373.7C492.3 374.4 490.3 374.4 489.6 373.7C488.9 373.1 488.7 371.2 488.9 369.7ZM478.3 379.0C478.8 377.4 480.9 374.4 482.3 373.7C483.7 373.1 486.0 374.2 486.9 375.0C487.9 375.9 488.7 377.7 488.3 379.0C487.8 380.4 485.7 382.2 484.3 383.0C482.9 383.8 480.6 384.3 479.6 383.7C478.7 383.0 477.9 380.7 478.3 379.0ZM403.4 225.1C404.0 224.3 405.2 223.3 406.9 224.4C408.6 225.6 411.7 229.5 413.8 232.0C415.8 234.5 418.2 237.6 419.3 239.6C420.3 241.5 420.6 243.3 420.0 243.7C419.3 244.2 417.1 243.8 415.1 242.3C413.2 240.8 410.2 236.9 408.3 234.8C406.3 232.6 404.2 230.9 403.4 229.3C402.6 227.7 402.9 225.9 403.4 225.1ZM438.5 241.0C438.3 239.6 439.5 239.9 440.2 241.0C440.9 242.0 442.1 245.5 442.7 247.2C443.2 248.8 443.6 250.3 443.3 250.6C443.1 250.9 442.1 250.8 441.3 249.2C440.5 247.6 438.7 242.3 438.5 241.0ZM459.9 263.7C460.0 262.7 461.2 262.7 461.6 263.7C462.1 264.6 462.2 267.3 462.6 269.2C463.0 271.0 464.1 273.8 464.0 274.7C463.9 275.6 462.5 275.6 461.9 274.7C461.4 273.8 460.9 271.0 460.5 269.2C460.2 267.3 459.7 264.6 459.9 263.7ZM464.7 271.9C465.4 270.4 467.8 267.7 468.8 267.1C469.8 266.5 471.0 267.5 470.9 268.5C470.8 269.5 468.9 271.8 468.1 273.3C467.3 274.8 466.7 277.0 466.1 277.4C465.4 277.9 464.6 277.0 464.4 276.1C464.2 275.1 463.9 273.4 464.7 271.9ZM500.5 268.5C500.7 266.6 502.3 263.8 503.9 260.9C505.5 258.0 508.3 253.7 510.1 251.3C511.9 248.9 513.9 246.7 514.9 246.5C515.9 246.2 516.7 248.0 516.3 249.9C515.8 251.9 513.8 255.4 512.2 258.2C510.5 260.9 508.3 264.1 506.6 266.4C505.0 268.7 503.6 271.6 502.5 271.9C501.5 272.3 500.2 270.3 500.5 268.5Z"/>
<path fill="#0000b4" d="M352.6 127.7C353.0 126.3 356.3 126.3 357.2 127.7C358.1 129.1 358.4 134.7 358.0 136.1C357.6 137.5 355.8 137.5 354.9 136.1C354.0 134.7 352.3 129.1 352.6 127.7ZM394.7 161.3C395.1 160.6 396.9 161.2 397.8 162.9C398.6 164.5 399.9 169.6 400.0 171.3C400.2 172.9 399.3 173.5 398.5 172.8C397.8 172.2 396.1 169.4 395.5 167.5C394.8 165.6 394.3 162.1 394.7 161.3ZM563.9 206.5C565.0 204.7 568.0 201.9 570.0 200.3C572.1 198.8 574.9 197.0 576.2 197.3C577.4 197.5 578.2 199.8 577.7 201.9C577.2 203.9 574.9 207.6 573.1 209.5C571.3 211.4 568.6 213.1 567.0 213.3C565.4 213.6 564.1 212.2 563.6 211.0C563.1 209.9 562.9 208.2 563.9 206.5ZM588.4 215.6C588.6 213.6 590.9 208.2 593.0 206.5C595.0 204.7 599.0 204.4 600.6 204.9C602.3 205.4 603.2 207.7 602.9 209.5C602.7 211.3 601.0 214.1 599.1 215.6C597.2 217.2 593.2 218.7 591.5 218.7C589.7 218.7 588.1 217.7 588.4 215.6ZM544.8 213.3C545.3 212.2 547.5 210.7 547.9 211.0C548.3 211.4 547.6 214.5 547.1 215.6C546.6 216.8 545.2 218.3 544.8 217.9C544.4 217.5 544.3 214.5 544.8 213.3ZM374.1 278.1C374.8 276.3 377.4 275.4 380.2 275.0C383.0 274.7 387.6 275.6 390.9 275.8C394.2 276.1 397.2 276.8 400.0 276.6C402.8 276.3 404.9 274.3 407.7 274.3C410.5 274.3 413.6 275.7 416.9 276.6C420.2 277.5 424.3 278.9 427.6 279.6C430.9 280.4 432.7 281.3 436.7 281.2C440.8 281.0 449.5 276.2 452.0 278.9C454.6 281.5 454.6 294.0 452.0 297.2C449.5 300.4 441.3 297.7 436.7 298.0C432.2 298.2 428.3 298.4 424.5 298.7C420.7 299.1 417.1 299.8 413.8 300.3C410.5 300.8 407.4 301.9 404.6 301.8C401.8 301.7 399.5 300.4 397.0 299.5C394.4 298.6 391.9 297.7 389.3 296.5C386.8 295.2 384.0 293.6 381.7 291.9C379.4 290.1 376.9 288.0 375.6 285.7C374.3 283.5 373.3 279.9 374.1 278.1ZM431.9 278.1C433.5 274.5 438.1 275.9 441.1 275.8C444.2 275.7 447.5 276.7 450.3 277.3C453.1 278.0 456.2 278.5 457.9 279.6C459.7 280.8 460.6 281.9 461.0 284.2C461.4 286.5 461.0 291.1 460.2 293.4C459.5 295.7 458.1 297.5 456.4 298.0C454.8 298.5 452.6 296.3 450.3 296.5C448.0 296.6 445.7 298.6 442.6 298.7C439.6 298.9 433.7 300.7 431.9 297.2C430.2 293.8 430.4 281.7 431.9 278.1ZM479.3 314.8C480.5 312.4 483.2 312.4 485.5 312.5C487.8 312.6 491.3 313.1 493.1 315.6C494.9 318.0 498.6 325.1 496.2 327.0C493.7 328.9 481.4 329.1 478.6 327.0C475.8 325.0 478.2 317.2 479.3 314.8ZM464.6 349.8C464.1 346.5 464.9 335.4 465.2 329.9C465.6 324.4 465.9 318.6 466.6 316.6C467.2 314.6 468.7 316.4 469.2 318.0C469.8 319.5 470.0 322.4 469.9 325.9C469.8 329.5 468.9 335.2 468.5 339.2C468.2 343.2 468.5 348.1 467.9 349.8C467.2 351.6 465.0 353.1 464.6 349.8ZM477.2 313.3C478.8 311.7 485.5 310.6 487.1 312.7C488.8 314.8 488.3 323.6 487.1 325.9C485.9 328.3 481.5 327.1 479.8 326.6C478.2 326.0 477.6 324.8 477.2 322.6C476.7 320.4 475.5 315.0 477.2 313.3ZM476.3 313.3C477.1 311.7 479.6 312.0 481.6 312.0C483.6 312.0 486.1 313.2 488.3 313.3C490.5 313.4 493.7 311.7 494.9 312.7C496.1 313.7 496.0 317.3 495.6 319.3C495.1 321.3 493.7 324.2 492.3 324.6C490.8 325.0 488.9 321.7 486.9 321.9C485.0 322.2 482.0 325.9 480.3 325.9C478.7 325.9 477.7 324.0 477.0 321.9C476.3 319.8 475.6 315.0 476.3 313.3ZM481.0 379.0C481.2 378.3 483.0 376.9 483.6 377.0C484.3 377.1 485.2 378.9 485.0 379.7C484.7 380.5 483.0 381.8 482.3 381.7C481.6 381.6 480.8 379.8 481.0 379.0ZM406.2 227.9C406.0 226.7 407.0 226.7 408.3 227.9C409.5 229.0 412.3 232.7 413.8 234.8C415.3 236.8 417.0 239.3 417.2 240.3C417.4 241.2 416.4 241.5 415.1 240.5C413.9 239.6 411.1 236.9 409.6 234.8C408.1 232.7 406.4 229.0 406.2 227.9ZM462.2 274.7C462.4 271.9 464.1 273.1 464.7 276.1C465.2 279.0 465.6 289.8 465.4 292.6C465.1 295.3 463.8 295.5 463.3 292.6C462.8 289.6 462.0 277.4 462.2 274.7Z"/>
<path fill="#7800b4" d="M427.6 285.7C428.0 285.0 429.7 284.0 430.6 284.2C431.5 284.5 432.9 286.3 432.9 287.3C432.9 288.3 431.4 290.1 430.6 290.3C429.9 290.6 428.8 289.6 428.3 288.8C427.8 288.0 427.2 286.5 427.6 285.7ZM435.2 288.8C435.6 288.0 437.6 287.5 438.3 288.0C438.9 288.6 439.4 291.1 439.0 291.9C438.7 292.6 436.6 293.1 436.0 292.6C435.3 292.1 434.8 289.6 435.2 288.8ZM446.5 285.0C446.9 283.6 449.4 283.1 450.3 283.5C451.2 283.8 451.8 285.6 451.8 287.3C451.8 288.9 450.9 292.6 450.3 293.4C449.7 294.2 448.6 293.3 448.0 291.9C447.4 290.5 446.1 286.4 446.5 285.0ZM433.5 288.0C434.2 287.2 437.2 287.4 438.1 288.0C439.0 288.7 439.6 291.0 438.8 291.9C438.1 292.8 434.4 294.0 433.5 293.4C432.6 292.8 432.7 288.9 433.5 288.0Z"/>
</g>
<g stroke="#000" fill="none" shape-rendering="crispEdges">
<path d="M271.5 392v-4.6M271.5 131v4.6" stroke-width="1.1"/>
<path d="M286.5 392v-4.6M286.5 131v4.6" stroke-width="1.1"/>
<path d="M301.5 392v-4.6M301.5 131v4.6" stroke-width="1.1"/>
<path d="M317.5 392v-4.6M317.5 131v4.6" stroke-width="1.1"/>
<path d="M332.0 392v-10.0M332.0 131v10.0" stroke-width="2"/>
<path d="M347.5 392v-4.6M347.5 131v4.6" stroke-width="1.1"/>
<path d="M363.5 392v-4.6M363.5 131v4.6" stroke-width="1.1"/>
<path d="M378.5 392v-4.6M378.5 131v4.6" stroke-width="1.1"/>
<path d="M393.5 392v-4.6M393.5 131v4.6" stroke-width="1.1"/>
<path d="M409.0 392v-10.0M409.0 131v10.0" stroke-width="2"/>
<path d="M424.5 392v-4.6M424.5 131v4.6" stroke-width="1.1"/>
<path d="M439.5 392v-4.6M439.5 131v4.6" stroke-width="1.1"/>
<path d="M455.5 392v-4.6M455.5 131v4.6" stroke-width="1.1"/>
<path d="M470.5 392v-4.6M470.5 131v4.6" stroke-width="1.1"/>
<path d="M486.0 392v-10.0M486.0 131v10.0" stroke-width="2"/>
<path d="M501.5 392v-4.6M501.5 131v4.6" stroke-width="1.1"/>
<path d="M516.5 392v-4.6M516.5 131v4.6" stroke-width="1.1"/>
<path d="M531.5 392v-4.6M531.5 131v4.6" stroke-width="1.1"/>
<path d="M547.5 392v-4.6M547.5 131v4.6" stroke-width="1.1"/>
<path d="M562.0 392v-10.0M562.0 131v10.0" stroke-width="2"/>
<path d="M577.5 392v-4.6M577.5 131v4.6" stroke-width="1.1"/>
<path d="M593.5 392v-4.6M593.5 131v4.6" stroke-width="1.1"/>
<path d="M608.5 392v-4.6M608.5 131v4.6" stroke-width="1.1"/>
<path d="M623.5 392v-4.6M623.5 131v4.6" stroke-width="1.1"/>
<path d="M639.0 392v-10.0M639.0 131v10.0" stroke-width="2"/>
<path d="M256 376.5h4.6M648 376.5h-4.6" stroke-width="1.1"/>
<path d="M256 358.5h4.6M648 358.5h-4.6" stroke-width="1.1"/>
<path d="M256 341.5h4.6M648 341.5h-4.6" stroke-width="1.1"/>
<path d="M256 323.5h4.6M648 323.5h-4.6" stroke-width="1.1"/>
<path d="M256 306.0h10.0M648 306.0h-10.0" stroke-width="2"/>
<path d="M256 288.5h4.6M648 288.5h-4.6" stroke-width="1.1"/>
<path d="M256 270.5h4.6M648 270.5h-4.6" stroke-width="1.1"/>
<path d="M256 253.5h4.6M648 253.5h-4.6" stroke-width="1.1"/>
<path d="M256 235.5h4.6M648 235.5h-4.6" stroke-width="1.1"/>
<path d="M256 218.0h10.0M648 218.0h-10.0" stroke-width="2"/>
<path d="M256 200.5h4.6M648 200.5h-4.6" stroke-width="1.1"/>
<path d="M256 182.5h4.6M648 182.5h-4.6" stroke-width="1.1"/>
<path d="M256 165.5h4.6M648 165.5h-4.6" stroke-width="1.1"/>
<path d="M256 147.5h4.6M648 147.5h-4.6" stroke-width="1.1"/>
<rect x="256" y="131" width="392" height="261" stroke-width="2"/>
</g>
<g>
<path d="M664.2 196.1L671.4 167.5L676.8 196.1Z" fill="#ffe0e0"/>
<rect x="664" y="196.1" width="13" height="18.7" fill="#ffb4b4"/>
<rect x="664" y="214.8" width="13" height="19.0" fill="#ff7878"/>
<rect x="664" y="233.8" width="13" height="18.0" fill="#ff1414"/>
<rect x="664" y="251.8" width="13" height="19.4" fill="#ff6e00"/>
<rect x="664" y="271.2" width="13" height="5.7" fill="#ffa000"/>
<rect x="664" y="276.9" width="13" height="5.9" fill="#ffd200"/>
<rect x="664" y="282.8" width="13" height="6.2" fill="#f0ff00"/>
<rect x="664" y="289.0" width="13" height="6.8" fill="#00ff50"/>
<rect x="664" y="295.8" width="13" height="6.2" fill="#00f0ff"/>
<rect x="664" y="302.0" width="13" height="6.3" fill="#0014ff"/>
<rect x="664" y="308.3" width="13" height="18.0" fill="#0000b4"/>
<rect x="664" y="326.3" width="13" height="18.7" fill="#7800b4"/>
<rect x="664" y="345.0" width="13" height="18.0" fill="#b400b4"/>
<rect x="664" y="363.0" width="13" height="28.6" fill="#e600aa"/>
<path d="M664 196.1h13" stroke="#000" stroke-width="1.4"/>
<path d="M664 233.8h13" stroke="#000" stroke-width="1.4"/>
<path d="M664 271.2h13" stroke="#000" stroke-width="1.4"/>
<path d="M664 276.9h13" stroke="#000" stroke-width="1.4"/>
<path d="M664 295.8h13" stroke="#000" stroke-width="1.4"/>
<path d="M664 302.0h13" stroke="#000" stroke-width="1.4"/>
<path d="M664 308.3h13" stroke="#000" stroke-width="1.4"/>
<path d="M664 363.0h13" stroke="#000" stroke-width="1.4"/>
<path d="M664 214.8h13" stroke="#fff" stroke-opacity=".55" stroke-width="1"/>
<path d="M664 251.8h13" stroke="#fff" stroke-opacity=".55" stroke-width="1"/>
<path d="M664 282.8h13" stroke="#fff" stroke-opacity=".55" stroke-width="1"/>
<path d="M664 289.0h13" stroke="#fff" stroke-opacity=".55" stroke-width="1"/>
<path d="M664 326.3h13" stroke="#fff" stroke-opacity=".55" stroke-width="1"/>
<path d="M664 345.0h13" stroke="#fff" stroke-opacity=".55" stroke-width="1"/>
<path d="M664.1 391.6V196.1L671.4 166.6L676.9 196.1V391.6Z" fill="none" stroke="#000" stroke-width="1.8" stroke-linejoin="miter"/>
</g>
</svg>
<div class="t" id="title" style="left:351px;top:62px;font-size:27px;letter-spacing:1.4px;word-spacing:4px;-webkit-text-stroke:0.6px #000;">zonal <span style="letter-spacing:0.55px">velocity</span></div>
<div class="t" id="xl" style="left:371.5px;top:450px;font-size:23px;letter-spacing:0.4px;-webkit-text-stroke:0.55px #000;">X<span class="d" style="transform:scaleX(2.3);margin-right:10.5px">-</span>coordinate</div>
<div class="t" id="zl" style="left:200px;top:341px;font-size:23px;letter-spacing:0.3px;-webkit-text-stroke:0.55px #000;transform-origin:0 0;transform:rotate(-90deg);">Z<span class="d" style="transform:scaleX(2.3);margin-right:10.5px">-</span>coordinate</div>
<div class="t" id="time" style="left:655px;top:131px;font-size:15.5px;letter-spacing:1.0px;color:#000;-webkit-text-stroke:0.2px #000">t=159000 s</div>
<div class="b" id="uy" style="left:164px;top:94px;font-size:16px;letter-spacing:1.3px;word-spacing:2px;transform-origin:0 0;transform:scaleX(1.15);-webkit-text-stroke:0.15px #000;">(<span class="m">×</span>1E4 m)</div>
<div class="b" id="ux" style="left:566.5px;top:423px;font-size:16px;letter-spacing:1.3px;word-spacing:2px;transform-origin:0 0;transform:scaleX(1.15);-webkit-text-stroke:0.15px #000;">(<span class="m">×</span>1E5 m)</div>
<div class="b x" style="left:312px;">1</div>
<div class="b x" style="left:389.3px;">2</div>
<div class="b x" style="left:466px;">3</div>
<div class="b x" style="left:542.4px;">4</div>
<div class="b x" style="left:619.6px;">5</div>
<div class="b" id="y2" style="left:234.5px;top:208.5px;font-size:18px;">2</div>
<div class="b" id="y1" style="left:234.5px;top:296.5px;font-size:18px;">1</div>
<div class="b" id="c1" style="left:687px;top:187.5px;font-size:16.5px;">15.1</div>
<div class="b" id="c2" style="left:687px;top:243px;font-size:17px;">6</div>
<div class="b" id="c3" style="left:686.5px;top:274px;font-size:17px;">1</div>
<div class="b" id="c4" style="left:686.5px;top:292.5px;font-size:16.5px;"><span class="d" style="transform:scaleX(2.3);margin-right:8.5px">-</span>2</div>
<div class="b" id="c5" style="left:686.5px;top:336px;font-size:16.5px;"><span class="d" style="transform:scaleX(2.3);margin-right:8.5px">-</span>9</div>
</body></html>
